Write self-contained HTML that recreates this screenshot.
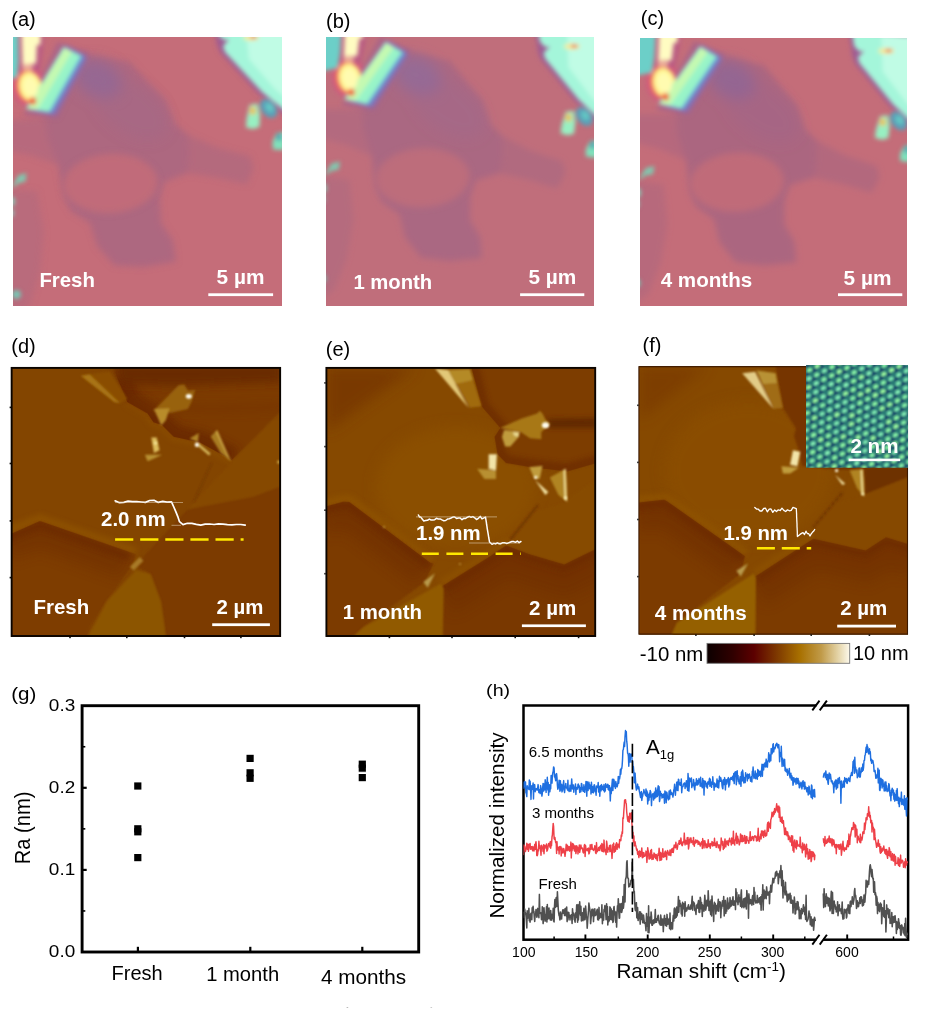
<!DOCTYPE html>
<html lang="en"><head><meta charset="utf-8"><title>Figure</title>
<style>
html,body{margin:0;padding:0;background:#fff;}
body{width:929px;height:1011px;overflow:hidden;}
svg{display:block;}
svg text{font-family:"Liberation Sans",sans-serif;}
</style></head><body>
<svg width="929" height="1011" viewBox="0 0 929 1011">
<defs>
<filter id="bl07" filterUnits="userSpaceOnUse" x="-60" y="-60" width="420" height="420"><feGaussianBlur stdDeviation="0.95"/></filter>
<filter id="bl1" filterUnits="userSpaceOnUse" x="-60" y="-60" width="420" height="420"><feGaussianBlur stdDeviation="1.0"/></filter>
<filter id="bl15" filterUnits="userSpaceOnUse" x="-60" y="-60" width="420" height="420"><feGaussianBlur stdDeviation="1.9"/></filter>
<filter id="bl2" filterUnits="userSpaceOnUse" x="-60" y="-60" width="420" height="420"><feGaussianBlur stdDeviation="2.6"/></filter>
<filter id="bl3" filterUnits="userSpaceOnUse" x="-60" y="-60" width="420" height="420"><feGaussianBlur stdDeviation="3.0"/></filter>
<filter id="bl4" filterUnits="userSpaceOnUse" x="-60" y="-60" width="420" height="420"><feGaussianBlur stdDeviation="4"/></filter>
<filter id="bl7" filterUnits="userSpaceOnUse" x="-60" y="-60" width="420" height="420"><feGaussianBlur stdDeviation="7"/></filter>
<linearGradient id="cbar" x1="0" x2="1" y1="0" y2="0">
<stop offset="0" stop-color="#0c0000"/><stop offset="0.18" stop-color="#300000"/><stop offset="0.33" stop-color="#5c0000"/>
<stop offset="0.5" stop-color="#803c00"/><stop offset="0.65" stop-color="#a87000"/><stop offset="0.8" stop-color="#c09a48"/>
<stop offset="0.92" stop-color="#e4d4a8"/><stop offset="1" stop-color="#fdf9ec"/></linearGradient>
<clipPath id="clipD0"><polygon points="101.7,0 116.2,34.9 136.6,46.5 142.4,55.2 151,58 162.7,69.7 189,75.6 220.9,93 267.4,46.5 271,43 271,0"/></clipPath>
<clipPath id="clipD1"><polygon points="0,167 29,153.9 125,187.3 122,197 95.9,233.8 78.5,260 75.6,271 0,271"/></clipPath>
<clipPath id="clipE1"><polygon points="145.3,0 155.5,39.2 174.4,61 168.6,69.7 171.5,87.2 180,96 203.4,100 241.2,104.6 271,96 271,0"/></clipPath>
<clipPath id="clipE2"><polygon points="0,139.4 17.4,134.8 23.2,135 104.6,196 107.5,196.6 98.8,215 37.8,260 26,271 0,271"/><polygon points="116.2,219.3 162.7,190.2 180.2,178.6 203.4,187.3 238.3,197.5 271,181.5 271,271 116.5,271"/></clipPath>
<clipPath id="clipF2"><polygon points="0,136.5 25,133.7 27.6,135 106,190.2 101.7,207.6 37.8,257 32,271 0,271"/><polygon points="116.2,210.6 174.4,172.8 226.7,184.4 247,171.3 271,178.6 271,271 116.2,271"/></clipPath>
<clipPath id="clipH"><rect x="523.5" y="705.5" width="384.6" height="234.2"/></clipPath>
</defs>
<rect width="929" height="1011" fill="#fff"/>
<!-- optical panels -->
<svg x="13" y="37" width="269" height="269" viewBox="0 0 269 269" overflow="hidden">
<rect x="-5" y="-5" width="280" height="280" fill="#c56d79"/>
<g filter="url(#bl3)">
<polygon points="71.2,17.4 116.2,24.7 136.6,46.5 152.6,62.5 162.7,87.2 174.4,97.4 176.0,116.0 174.4,136.1 151.1,145.3 146.8,162.7 148.2,186.0 159.8,203.4 163.0,224.5 130.8,230.0 101.7,228.5 84.3,209.2 77.0,186.0 58.1,174.4 50.5,160.0 45.0,127.9 34.0,100.0 32.0,78.5 45.0,55.0 58.0,32.0" fill="#ad6780" />
<polygon points="-14.0,84.0 17.4,82.0 34.0,78.0 45.0,128.0 17.4,118.0 -14.0,112.0" fill="#ad6780" opacity="0.6" />
<polygon points="170.0,95.0 174.4,97.4 203.4,110.4 236.9,119.2 240.8,130.8 233.9,147.5 203.4,140.5 174.4,136.1 170.0,137.0" fill="#ad6780" opacity="0.68" />
<polygon points="-14.0,152.0 24.0,154.0 31.0,195.0 27.0,235.0 17.0,268.0 -14.0,292.0" fill="#ad6780" opacity="0.5" />
</g>
<g filter="url(#bl7)">
<ellipse cx="85.0" cy="42.0" rx="25" ry="18" fill="#966892" transform="rotate(25 85.0 42.0)"/>
<ellipse cx="118.0" cy="72.0" rx="42" ry="24" fill="#966892" opacity="0.22" transform="rotate(35 118.0 72.0)"/>
</g>
<g filter="url(#bl3)">
<ellipse cx="97.5" cy="146.5" rx="47" ry="29.5" fill="#c26c79" opacity="0.95" transform="rotate(-3 97.5 146.5)"/>
</g>
<g filter="url(#bl2)">
<ellipse cx="16.0" cy="49.0" rx="17" ry="20" fill="#d0587e" opacity="0.9"/>
<polygon points="4.0,-16.0 31.0,-16.0 30.0,12.0 27.0,33.0 5.0,35.0" fill="#b85a84" opacity="0.9" />
<polygon points="44.6,4.9 76.7,15.6 44.7,81.0 10.9,77.7" fill="#a2628c" opacity="0.75" />
<polygon points="52.3,8.8 74.2,20.6 42.2,78.0 17.5,72.4" fill="#7d74be" opacity="0.95" />
</g>
<g filter="url(#bl15)">
<polygon points="-16.0,-16.0 5.0,-16.0 5.5,24.0 4.0,40.0 -16.0,46.0" fill="#6ccfc8" />
<polygon points="8.2,-16.0 27.8,-16.0 27.5,7.5 23.8,8.5 23.0,26.5 9.5,27.5" fill="#fffcc2" />
<polygon points="9.0,27.0 20.0,27.0 19.0,38.0 10.0,38.0" fill="#f6c0a0" opacity="0.8" />
<ellipse cx="16.0" cy="49.8" rx="13.0" ry="16.6" fill="#f47e58" transform="rotate(-12 16.0 49.8)"/>
<ellipse cx="17.4" cy="49.6" rx="11.0" ry="14.6" fill="#fff692" transform="rotate(-12 17.4 49.6)"/>
<polygon points="55.7,12.5 70.3,19.6 38.3,75.6 19.7,72.7" fill="#68b4de" />
<polygon points="50.6,9.9 67.7,18.6 35.7,75.0 12.9,71.7" fill="#98f4c8" />
<polygon points="51.6,10.4 59.2,14.2 24.3,73.3 14.3,71.9" fill="#caf9ae" opacity="0.9" />
<ellipse cx="19.6" cy="64.0" rx="3.6" ry="3.8" fill="#f0643a"/>
<ellipse cx="17.5" cy="50.0" rx="7.5" ry="10.5" fill="#fffbb0" transform="rotate(-12 17.5 50.0)"/>
</g>
<g filter="url(#bl2)">
<polygon points="199.0,-16.0 203.0,0.0 204.0,7.0 207.5,15.5 245.5,56.5 267.5,75.0 292.0,94.0 292.0,-16.0" fill="#9a5a96" opacity="0.9" />
</g>
<g filter="url(#bl15)">
<polygon points="202.5,-16.0 205.5,-2.0 211.0,3.0 216.0,2.5 210.0,9.0 212.0,15.0 249.0,55.0 271.0,73.0 292.0,90.0 292.0,-16.0" fill="#a4f6da" />
<polygon points="232.0,-16.0 236.0,22.0 262.0,52.0 292.0,78.0 292.0,-16.0" fill="#c6fde6" opacity="0.85" />
<ellipse cx="238.0" cy="0.5" rx="8" ry="3.0" fill="#f6ec9a"/>
<ellipse cx="240.5" cy="0.0" rx="3.6" ry="1.6" fill="#e8603a"/>
<ellipse cx="255.6" cy="71.5" rx="7.2" ry="10.5" fill="#5a9fb8" transform="rotate(-38 255.6 71.5)"/>
<ellipse cx="256.5" cy="70.5" rx="3.5" ry="5.0" fill="#64c8c4" transform="rotate(-38 256.5 70.5)"/>
<polygon points="236.5,68.0 244.5,66.5 247.0,78.0 246.5,90.0 240.0,92.0 233.0,90.5 233.5,82.0" fill="#98f0c2" />
<ellipse cx="239.8" cy="73.8" rx="3.2" ry="4.2" fill="#e8c25c"/>
<polygon points="263.5,96.0 272.0,95.0 272.0,113.0 260.0,112.5 259.5,105.0" fill="#7fe2bc" />
<ellipse cx="266.0" cy="100.0" rx="2.5" ry="4" fill="#4f9cb0"/>
<polygon points="5.0,138.5 13.5,136.0 12.5,144.5 6.0,146.0 -2.0,152.0" fill="#7ccfb4" opacity="0.92" />
<ellipse cx="-1.0" cy="164.5" rx="3.0" ry="4.5" fill="#86d4bc" opacity="0.9"/>
<ellipse cx="3.5" cy="257.5" rx="4.5" ry="4.5" fill="#74ccb8" opacity="0.92"/>
<ellipse cx="-1.5" cy="176.0" rx="2.5" ry="4" fill="#8ad8c8" opacity="0.8"/>
</g>
</svg>
<svg x="326" y="37" width="268" height="269" viewBox="0 0 268 269" overflow="hidden">
<rect x="-5" y="-5" width="280" height="280" fill="#c06e7b"/>
<g filter="url(#bl3)">
<polygon points="79.6,13.8 123.6,24.1 142.3,46.7 157.0,63.4 165.3,88.0 176.2,98.7 176.4,116.9 173.4,136.3 149.7,143.5 144.3,160.1 144.0,182.7 154.3,200.4 156.0,221.1 123.7,224.1 95.0,220.6 79.1,200.6 73.5,177.6 55.6,165.0 49.1,150.5 45.9,119.0 37.0,91.2 36.5,70.2 51.0,48.3 65.5,27.0" fill="#aa6882" />
<polygon points="-9.4,72.2 21.8,72.5 38.5,69.8 45.9,119.1 19.3,107.4 -11.4,99.4" fill="#aa6882" opacity="0.6" />
<polygon points="172.0,96.1 176.2,98.7 203.9,113.4 236.5,124.4 239.5,135.9 231.5,151.6 201.8,142.6 173.4,136.3 169.0,136.8" fill="#aa6882" opacity="0.68" />
<polygon points="-14.2,138.1 23.3,142.8 27.4,183.0 20.6,221.5 8.4,252.8 -23.9,273.8" fill="#aa6882" opacity="0.5" />
</g>
<g filter="url(#bl7)">
<ellipse cx="91.5" cy="38.6" rx="25" ry="18" fill="#966a94" transform="rotate(25 91.5 38.6)"/>
<ellipse cx="122.1" cy="70.1" rx="42" ry="24" fill="#966a94" opacity="0.22" transform="rotate(35 122.1 70.1)"/>
</g>
<g filter="url(#bl3)">
<ellipse cx="96.6" cy="140.8" rx="47" ry="29.5" fill="#be6d7b" opacity="0.95" transform="rotate(-3 96.6 140.8)"/>
</g>
<g filter="url(#bl2)">
<ellipse cx="22.7" cy="40.4" rx="17" ry="20" fill="#d0587e" opacity="0.9"/>
<polygon points="15.4,-23.4 42.1,-21.5 39.2,5.6 34.7,25.7 12.8,26.1" fill="#b85a84" opacity="0.9" />
<polygon points="54.1,-0.2 85.2,12.4 48.9,73.5 15.7,67.9" fill="#a2628c" opacity="0.75" />
<polygon points="61.5,4.1 82.3,17.1 46.6,70.4 22.5,63.2" fill="#7d74be" opacity="0.95" />
</g>
<g filter="url(#bl15)">
<polygon points="-4.4,-24.9 16.4,-23.3 14.1,15.5 11.5,30.9 -8.7,35.2" fill="#6ccfc8" />
<polygon points="19.6,-23.1 39.0,-21.7 37.0,1.0 33.3,1.8 31.2,19.1 17.8,19.1" fill="#fffcc2" />
<polygon points="17.3,18.6 28.2,19.4 26.5,30.0 17.6,29.4" fill="#f6c0a0" opacity="0.8" />
<ellipse cx="22.7" cy="41.2" rx="13.0" ry="16.6" fill="#f47e58" transform="rotate(-12 22.7 41.2)"/>
<ellipse cx="24.1" cy="41.1" rx="11.0" ry="14.6" fill="#fff692" transform="rotate(-12 24.1 41.1)"/>
<polygon points="64.6,7.9 78.5,15.9 42.9,67.8 24.8,63.7" fill="#68b4de" />
<polygon points="59.7,5.0 76.0,14.7 40.4,67.1 18.1,62.2" fill="#98f4c8" />
<polygon points="60.7,5.6 67.9,9.9 29.2,64.6 19.4,62.5" fill="#caf9ae" opacity="0.9" />
<ellipse cx="25.2" cy="55.2" rx="3.6" ry="3.8" fill="#f0643a"/>
<ellipse cx="24.1" cy="41.5" rx="7.5" ry="10.5" fill="#fffbb0" transform="rotate(-12 24.1 41.5)"/>
</g>
<g filter="url(#bl2)">
<polygon points="208.4,-9.4 211.3,6.4 211.8,13.3 214.6,21.7 249.4,64.2 269.9,83.7 292.8,103.9 300.5,-2.7" fill="#9a5a96" opacity="0.9" />
</g>
<g filter="url(#bl15)">
<polygon points="211.9,-9.1 213.9,4.6 219.0,9.9 224.0,9.8 217.6,15.6 219.1,21.6 253.0,63.0 273.5,82.0 293.1,100.0 300.5,-2.7" fill="#a4f6da" />
<polygon points="241.1,-7.0 242.4,30.1 266.0,61.0 293.9,88.4 300.5,-2.7" fill="#c6fde6" opacity="0.85" />
<ellipse cx="245.9" cy="9.4" rx="8" ry="3.0" fill="#f6ec9a"/>
<ellipse cx="248.4" cy="9.1" rx="3.6" ry="1.6" fill="#e8603a"/>
<ellipse cx="258.3" cy="79.5" rx="7.2" ry="10.5" fill="#5a9fb8" transform="rotate(-38 258.3 79.5)"/>
<ellipse cx="259.3" cy="78.6" rx="3.5" ry="5.0" fill="#64c8c4" transform="rotate(-38 259.3 78.6)"/>
<polygon points="239.7,74.7 247.7,73.8 249.4,85.2 248.0,96.8 241.5,98.2 234.6,96.3 235.7,88.1" fill="#98f0c2" />
<ellipse cx="242.5" cy="80.6" rx="3.2" ry="4.2" fill="#e8c25c"/>
<polygon points="264.4,103.8 272.9,103.4 271.7,120.9 259.8,119.5 259.9,112.2" fill="#7fe2bc" />
<ellipse cx="266.6" cy="107.9" rx="2.5" ry="4" fill="#4f9cb0"/>
<polygon points="5.6,126.4 14.2,124.6 12.6,132.8 6.1,133.7 -2.3,139.0" fill="#7ccfb4" opacity="0.92" />
<ellipse cx="-2.2" cy="151.2" rx="3.0" ry="4.5" fill="#86d4bc" opacity="0.9"/>
<ellipse cx="-4.2" cy="241.6" rx="4.5" ry="4.5" fill="#74ccb8" opacity="0.92"/>
<ellipse cx="-3.5" cy="162.3" rx="2.5" ry="4" fill="#8ad8c8" opacity="0.8"/>
</g>
</svg>
<svg x="640" y="38" width="267" height="268" viewBox="0 0 267 268" overflow="hidden">
<rect x="-5" y="-5" width="280" height="280" fill="#c46d79"/>
<g filter="url(#bl3)">
<polygon points="79.9,17.3 123.9,27.6 142.6,50.2 157.3,66.9 165.6,91.5 176.4,102.2 176.7,120.4 173.7,139.8 150.0,147.0 144.5,163.6 144.3,186.2 154.6,203.9 156.3,224.6 124.0,227.6 95.3,224.1 79.4,204.1 73.8,181.1 55.9,168.5 49.4,154.0 46.2,122.5 37.3,94.7 36.8,73.7 51.3,51.8 65.8,30.5" fill="#ab6680" />
<polygon points="-9.1,75.7 22.1,76.0 38.8,73.3 46.2,122.6 19.6,110.9 -11.1,102.9" fill="#ab6680" opacity="0.6" />
<polygon points="172.2,99.6 176.4,102.2 204.2,116.9 236.8,127.9 239.8,139.4 231.8,155.1 202.1,146.1 173.7,139.8 169.3,140.3" fill="#ab6680" opacity="0.68" />
<polygon points="-13.9,141.6 23.6,146.3 27.7,186.5 20.9,225.0 8.7,256.3 -23.7,277.3" fill="#ab6680" opacity="0.5" />
</g>
<g filter="url(#bl7)">
<ellipse cx="91.8" cy="42.1" rx="25" ry="18" fill="#946692" transform="rotate(25 91.8 42.1)"/>
<ellipse cx="122.4" cy="73.6" rx="42" ry="24" fill="#946692" opacity="0.22" transform="rotate(35 122.4 73.6)"/>
</g>
<g filter="url(#bl3)">
<ellipse cx="96.9" cy="144.3" rx="47" ry="29.5" fill="#c16c79" opacity="0.95" transform="rotate(-3 96.9 144.3)"/>
</g>
<g filter="url(#bl2)">
<ellipse cx="23.0" cy="43.9" rx="17" ry="20" fill="#d0587e" opacity="0.9"/>
<polygon points="15.7,-19.9 42.4,-18.0 39.5,9.1 35.0,29.2 13.1,29.6" fill="#b85a84" opacity="0.9" />
<polygon points="54.4,3.3 85.4,15.9 49.2,77.0 16.0,71.4" fill="#a2628c" opacity="0.75" />
<polygon points="61.8,7.6 82.6,20.6 46.9,73.9 22.8,66.7" fill="#7d74be" opacity="0.95" />
</g>
<g filter="url(#bl15)">
<polygon points="-4.1,-21.4 16.7,-19.8 14.4,19.0 11.8,34.4 -8.5,38.7" fill="#6ccfc8" />
<polygon points="19.8,-19.6 39.2,-18.2 37.3,4.5 33.6,5.3 31.5,22.6 18.1,22.6" fill="#fffcc2" />
<polygon points="17.6,22.1 28.5,22.9 26.8,33.5 17.8,32.9" fill="#f6c0a0" opacity="0.8" />
<ellipse cx="23.0" cy="44.7" rx="13.0" ry="16.6" fill="#f47e58" transform="rotate(-12 23.0 44.7)"/>
<ellipse cx="24.4" cy="44.6" rx="11.0" ry="14.6" fill="#fff692" transform="rotate(-12 24.4 44.6)"/>
<polygon points="64.9,11.4 78.8,19.4 43.2,71.3 25.1,67.2" fill="#68b4de" />
<polygon points="60.0,8.5 76.3,18.2 40.7,70.6 18.4,65.7" fill="#98f4c8" />
<polygon points="61.0,9.1 68.2,13.4 29.5,68.1 19.7,66.0" fill="#caf9ae" opacity="0.9" />
<ellipse cx="25.5" cy="58.7" rx="3.6" ry="3.8" fill="#f0643a"/>
<ellipse cx="24.4" cy="45.0" rx="7.5" ry="10.5" fill="#fffbb0" transform="rotate(-12 24.4 45.0)"/>
</g>
<g filter="url(#bl2)">
<polygon points="208.7,-5.9 211.5,9.9 212.1,16.8 214.9,25.2 249.7,67.7 270.2,87.2 293.1,107.4 300.8,0.8" fill="#9a5a96" opacity="0.9" />
</g>
<g filter="url(#bl15)">
<polygon points="212.2,-5.6 214.2,8.1 219.3,13.4 224.2,13.3 217.8,19.1 219.4,25.1 253.2,66.5 273.8,85.5 293.4,103.5 300.8,0.8" fill="#a4f6da" />
<polygon points="241.4,-3.5 242.7,33.6 266.3,64.5 294.2,91.9 300.8,0.8" fill="#c6fde6" opacity="0.85" />
<ellipse cx="246.2" cy="12.9" rx="8" ry="3.0" fill="#f6ec9a"/>
<ellipse cx="248.7" cy="12.6" rx="3.6" ry="1.6" fill="#e8603a"/>
<ellipse cx="258.6" cy="83.0" rx="7.2" ry="10.5" fill="#5a9fb8" transform="rotate(-38 258.6 83.0)"/>
<ellipse cx="259.6" cy="82.1" rx="3.5" ry="5.0" fill="#64c8c4" transform="rotate(-38 259.6 82.1)"/>
<polygon points="240.0,78.2 248.0,77.3 249.7,88.7 248.3,100.3 241.7,101.7 234.9,99.8 236.0,91.6" fill="#98f0c2" />
<ellipse cx="242.8" cy="84.1" rx="3.2" ry="4.2" fill="#e8c25c"/>
<polygon points="264.7,107.3 273.2,106.9 272.0,124.4 260.1,123.0 260.1,115.7" fill="#7fe2bc" />
<ellipse cx="266.9" cy="111.4" rx="2.5" ry="4" fill="#4f9cb0"/>
<polygon points="5.9,129.9 14.5,128.1 12.9,136.3 6.3,137.2 -2.0,142.5" fill="#7ccfb4" opacity="0.92" />
<ellipse cx="-1.9" cy="154.7" rx="3.0" ry="4.5" fill="#86d4bc" opacity="0.9"/>
<ellipse cx="-3.9" cy="245.1" rx="4.5" ry="4.5" fill="#74ccb8" opacity="0.92"/>
<ellipse cx="-3.2" cy="165.8" rx="2.5" ry="4" fill="#8ad8c8" opacity="0.8"/>
</g>
</svg>
<text x="39.4" y="287.0" font-size="20.4" font-weight="bold" fill="#fff">Fresh</text>
<text x="216.6" y="283.6" font-size="20.8" font-weight="bold" fill="#fff">5 µm</text>
<rect x="208.3" y="293.3" width="64.8" height="2.8" fill="#fff"/>
<text x="353.4" y="288.6" font-size="20.3" font-weight="bold" fill="#fff">1 month</text>
<text x="528.4" y="283.6" font-size="20.8" font-weight="bold" fill="#fff">5 µm</text>
<rect x="520.1" y="293.3" width="64.2" height="2.8" fill="#fff"/>
<text x="660.7" y="287.0" font-size="20.6" font-weight="bold" fill="#fff">4 months</text>
<text x="843.6" y="284.6" font-size="20.8" font-weight="bold" fill="#fff">5 µm</text>
<rect x="838.0" y="293.3" width="64.3" height="2.8" fill="#fff"/>
<!-- AFM panels -->
<svg x="11" y="367" width="270" height="270" viewBox="0 0 270 270" overflow="hidden">
<rect x="0" y="0" width="270" height="270" fill="#834500"/>
<polyline points="-5.0,165.0 29.0,152.5 125.0,186.0" fill="none" stroke="#8f5300" stroke-width="11" opacity="0.75" filter="url(#bl2)"/>
<polyline points="116.2,34.9 136.6,46.5 142.4,55.2 151.0,58.0 162.7,69.7 189.0,75.6 220.9,93.0" fill="none" stroke="#8c5000" stroke-width="9" opacity="0.6" filter="url(#bl2)"/>
<g filter="url(#bl07)">
<polygon points="101.7,0.0 116.2,34.9 136.6,46.5 142.4,55.2 151.0,58.0 162.7,69.7 189.0,75.6 220.9,93.0 267.4,46.5 271.0,43.0 271.0,0.0" fill="#7b3a00" />
<polygon points="271.0,43.0 222.6,93.1 176.5,142.5 242.6,129.8 271.0,119.0" fill="#864a00" />
<polygon points="176.5,142.5 242.6,129.8 271.0,119.0 271.0,271.0 155.0,271.0 150.0,235.0 139.5,207.0 128.0,200.5 125.0,197.5" fill="#7c3b00" />
<polygon points="0.0,167.0 29.0,153.9 125.0,187.3 122.0,197.0 95.9,233.8 78.5,260.0 75.6,271.0 0.0,271.0" fill="#7e3e00" />
</g>
<g clip-path="url(#clipD1)">
<polyline points="-5.0,176.0 29.0,164.0 116.0,195.0" fill="none" stroke="#6c2c00" stroke-width="34" opacity="0.45" filter="url(#bl7)"/>
<polyline points="-5.0,171.5 29.0,158.5 118.0,190.0" fill="none" stroke="#6c2a00" stroke-width="8" opacity="0.75" filter="url(#bl2)"/>
</g>
<g clip-path="url(#clipD0)">
<polyline points="108.0,8.0 117.0,36.0 137.0,48.0 143.0,56.5 151.0,59.5 163.0,71.0 189.0,77.0 222.0,94.0" fill="none" stroke="#672800" stroke-width="26" opacity="0.8" filter="url(#bl4)"/>
</g>
<polygon points="104.0,-4.0 110.0,17.0 160.0,19.0 271.0,15.0 271.0,-4.0" fill="#692900" opacity="0.95" filter="url(#bl4)"/>
<polygon points="118.0,33.0 150.0,36.0 200.0,38.0 271.0,36.0 271.0,44.0 200.0,46.0 140.0,44.0" fill="#743200" opacity="0.5" filter="url(#bl4)"/>
<g filter="url(#bl07)">
<polygon points="125.0,203.0 139.5,207.0 150.0,235.0 155.0,271.0 76.0,271.0 96.0,233.8" fill="#8c5400" />
<line x1="120.8" y1="201.6" x2="130.6" y2="191.9" stroke="#a87a28" stroke-width="5.2" />
<line x1="200.5" y1="96.0" x2="183.0" y2="134.8" stroke="#5e2a00" stroke-width="1.0" opacity="0.55" />
<polygon points="78.5,7.3 98.8,4.4 116.2,32.0 109.0,36.3" fill="#8a4e04" />
<polygon points="69.7,8.7 78.5,7.3 109.0,36.3 103.2,34.9" fill="#a87414" />
<polygon points="142.1,43.9 167.7,18.3 173.2,17.4 176.9,23.8 184.2,22.9 180.5,34.8 176.9,42.1 160.4,45.7" fill="#98620e" />
<polygon points="143.0,42.1 158.6,41.2 154.9,53.1 150.3,58.6" fill="#b88c2c" />
<polygon points="140.3,70.4 145.7,70.4 148.5,83.3 143.0,86.0" fill="#dcbc5c" />
<polygon points="133.9,87.8 151.2,87.8 143.0,91.5 136.6,94.2" fill="#b89030" />
<polygon points="178.7,71.4 187.8,65.9 186.9,75.0" fill="#b08428" />
<polygon points="186.5,78.5 188.5,77.0 199.5,86.5 198.0,88.5" fill="#d8bc60" />
<polygon points="199.7,69.5 206.1,63.1 219.9,94.2 209.8,86.0" fill="#a87c20" />
<polygon points="204.5,65.0 206.1,63.1 219.9,94.2 216.5,90.0" fill="#c8a040" />
</g>
<g filter="url(#bl1)">
<ellipse cx="177.8" cy="29.3" rx="3.0" ry="2.4" fill="#fffdf0"/>
<circle cx="186.0" cy="77.8" r="2.2" fill="#fffdf0"/>
<circle cx="144.5" cy="76.0" r="1.6" fill="#f8e8a0"/>
<circle cx="267.8" cy="95.0" r="1.6" fill="#d8b850"/>
</g>
</svg>
<rect x="11.65" y="367.9" width="268.5" height="268.1" fill="none" stroke="#0a0400" stroke-width="1.9"/>
<svg x="326" y="367" width="270" height="270" viewBox="0 0 270 270" overflow="hidden">
<rect x="0" y="0" width="270" height="270" fill="#864900"/>
<polygon points="0,0 90,0 0,65" fill="#733300" opacity="0.65" filter="url(#bl7)"/>
<ellipse cx="130" cy="120" rx="80" ry="60" fill="#8d5100" opacity="0.75" filter="url(#bl7)"/>
<polyline points="-4.0,138.0 17.4,133.3 23.6,133.4 105.0,194.5" fill="none" stroke="#8f5300" stroke-width="11" opacity="0.75" filter="url(#bl2)"/>
<polyline points="116.0,217.8 162.7,188.8 180.2,177.0 203.4,185.8 238.3,196.0 275.0,179.5" fill="none" stroke="#8f5300" stroke-width="11" opacity="0.6" filter="url(#bl2)"/>
<g filter="url(#bl07)">
<polygon points="145.3,0.0 155.5,39.2 174.4,61.0 168.6,69.7 171.5,87.2 180.0,96.0 203.4,100.0 241.2,104.6 271.0,96.0 271.0,0.0" fill="#7d3d00" />
</g>
<g clip-path="url(#clipE1)">
<polyline points="146.0,-4.0 157.0,39.0 176.0,61.0 171.0,70.0 173.5,87.0 181.0,94.5 204.0,98.0 241.0,102.5 275.0,93.0" fill="none" stroke="#6c2c00" stroke-width="12" opacity="0.7" filter="url(#bl2)"/>
<polygon points="222.0,52.0 271.0,51.0 271.0,61.0 222.0,61.0" fill="#5e2600" opacity="0.9" filter="url(#bl2)"/>
</g>
<g filter="url(#bl07)">
<polygon points="271.0,112.0 243.0,131.0 241.2,134.8 203.4,146.6 186.0,172.8 180.2,178.6 203.4,187.3 238.3,197.5 271.0,181.5" fill="#874b00" />
<polygon points="0.0,139.4 17.4,134.8 23.2,135.0 104.6,196.0 107.5,196.6 98.8,215.0 37.8,260.0 26.0,271.0 0.0,271.0" fill="#7b3a00" />
<polygon points="116.2,219.3 162.7,190.2 180.2,178.6 203.4,187.3 238.3,197.5 271.0,181.5 271.0,271.0 116.5,271.0" fill="#793900" />
</g>
<g clip-path="url(#clipE2)">
<polyline points="-4.0,150.0 18.0,146.0 26.0,147.0 100.0,204.0" fill="none" stroke="#6c2c00" stroke-width="34" opacity="0.45" filter="url(#bl7)"/>
<polyline points="118.0,232.0 163.0,204.0 181.0,193.0 203.0,201.0 238.0,212.0 275.0,194.0" fill="none" stroke="#6c2c00" stroke-width="34" opacity="0.4" filter="url(#bl7)"/>
<polyline points="-4.0,143.0 18.0,138.5 24.0,139.0 103.0,198.5" fill="none" stroke="#6c2a00" stroke-width="8" opacity="0.75" filter="url(#bl2)"/>
<polyline points="118.0,222.5 163.0,194.0 180.5,182.5 203.0,191.0 238.0,201.5 275.0,183.5" fill="none" stroke="#6c2a00" stroke-width="8" opacity="0.65" filter="url(#bl2)"/>
</g>
<g filter="url(#bl07)">
<polygon points="114.8,216.4 117.7,222.0 116.5,271.0 26.0,271.0 37.8,260.0" fill="#915a00" />
<polygon points="97.4,215.0 109.0,206.2 101.7,220.8" fill="#b89a4c" />
<line x1="212.0" y1="138.0" x2="184.5" y2="172.5" stroke="#602a00" stroke-width="1.5" opacity="0.75" />
<polygon points="122.0,2.9 143.9,2.3 155.5,39.2 143.9,40.7" fill="#a06a10" />
<polygon points="122.0,2.9 143.9,2.3 147.0,13.0 129.0,17.0" fill="#b48a28" />
<polygon points="109.0,1.5 122.0,2.9 142.4,40.7" fill="#e2c878" />
<polygon points="174.0,60.9 195.7,51.6 211.2,46.4 213.8,43.8 216.4,46.4 219.5,52.6 224.0,57.0 215.3,65.0 215.3,72.2 204.0,71.2 194.7,65.0" fill="#a87818" />
<polygon points="178.1,63.0 193.6,65.0 192.6,70.1 184.3,79.4 179.2,79.4 176.0,70.0" fill="#c09c3c" />
<polygon points="187.0,65.0 193.0,65.5 192.5,70.0 188.0,68.5" fill="#e8d890" />
<polygon points="162.7,87.2 170.9,87.2 170.0,103.2 162.7,101.7" fill="#f2e4a8" />
<polygon points="151.1,101.7 170.0,103.2 170.0,111.9 158.4,111.9" fill="#b89030" />
<polygon points="203.4,100.3 216.5,98.8 213.6,111.9 207.8,110.4" fill="#c09c3c" />
<polygon points="209.2,113.3 222.3,125.0 219.4,127.9" fill="#f0e0a0" />
<polygon points="223.8,110.4 239.8,101.7 241.2,134.8 232.5,127.9" fill="#b08424" />
<polygon points="237.5,103.0 239.8,101.7 241.2,134.8 238.5,132.0" fill="#e8d488" />
</g>
<g filter="url(#bl1)">
<ellipse cx="219.5" cy="58.3" rx="3.6" ry="3.0" fill="#fffdf0"/>
<circle cx="209.8" cy="110.4" r="1.7" fill="#fffbe0"/>
<circle cx="239.5" cy="131.0" r="1.4" fill="#fff4c0"/>
<circle cx="58.0" cy="160.0" r="1.0" fill="#c8a040"/>
<circle cx="134.0" cy="197.0" r="0.9" fill="#c8a040"/>
</g>
</svg>
<rect x="326.4" y="367.9" width="268.8" height="268.1" fill="none" stroke="#0a0400" stroke-width="1.9"/>
<svg x="639" y="366" width="269" height="268.6" viewBox="0 0 269 268.6" overflow="hidden">
<rect x="0" y="0" width="271" height="270" fill="#864900"/>
<polygon points="0,0 70,0 0,55" fill="#733300" opacity="0.45" filter="url(#bl7)"/>
<ellipse cx="110" cy="105" rx="85" ry="70" fill="#8c5000" opacity="0.7" filter="url(#bl7)"/>
<polyline points="-4.0,135.3 25.0,132.3 28.0,133.5 106.5,188.8" fill="none" stroke="#8f5300" stroke-width="11" opacity="0.75" filter="url(#bl2)"/>
<polyline points="116.0,209.0 174.4,171.3 226.7,183.0 247.0,169.8 275.0,178.0" fill="none" stroke="#8f5300" stroke-width="11" opacity="0.6" filter="url(#bl2)"/>
<g filter="url(#bl07)">
<polygon points="136.6,0.0 143.9,42.1 157.0,62.5 155.0,70.0 159.8,84.3 163.0,100.0 200.0,104.0 223.8,103.2 271.0,103.0 271.0,0.0" fill="#763600" />
<polygon points="225.2,103.0 271.0,103.0 271.0,110.4 226.7,127.9" fill="#6e3000" />
<polygon points="271.0,110.4 226.7,127.9 224.0,131.0 194.7,137.9 174.4,161.2 174.4,172.8 226.7,184.4 247.0,171.3 271.0,178.6" fill="#864a00" />
<polygon points="0.0,136.5 25.0,133.7 27.6,135.0 106.0,190.2 101.7,207.6 37.8,257.0 32.0,271.0 0.0,271.0" fill="#7c3b00" />
<polygon points="116.2,210.6 174.4,172.8 226.7,184.4 247.0,171.3 271.0,178.6 271.0,271.0 116.2,271.0" fill="#7c3b00" />
</g>
<g clip-path="url(#clipF2)">
<polyline points="-4.0,148.0 25.0,145.0 30.0,147.0 101.0,198.0" fill="none" stroke="#6c2c00" stroke-width="34" opacity="0.45" filter="url(#bl7)"/>
<polyline points="118.0,224.0 175.0,187.0 226.5,199.0 247.0,186.0 275.0,194.0" fill="none" stroke="#6c2c00" stroke-width="34" opacity="0.4" filter="url(#bl7)"/>
<polyline points="-4.0,140.5 25.0,137.5 28.0,139.0 104.0,192.5" fill="none" stroke="#6c2a00" stroke-width="8" opacity="0.7" filter="url(#bl2)"/>
<polyline points="118.0,213.5 174.5,176.5 226.5,188.5 247.0,175.5 275.0,184.0" fill="none" stroke="#6c2a00" stroke-width="8" opacity="0.6" filter="url(#bl2)"/>
</g>
<g filter="url(#bl07)">
<polygon points="114.8,207.6 116.8,212.0 116.2,271.0 32.0,271.0 37.8,257.0" fill="#956003" />
<polygon points="97.4,204.7 109.0,197.5 101.7,210.6" fill="#b89a4c" />
<line x1="203.0" y1="127.0" x2="174.4" y2="161.2" stroke="#5e2a00" stroke-width="1.4" opacity="0.8" stroke-dasharray="4.5 1.5"/>
<polygon points="117.7,4.4 136.6,7.3 143.9,42.1 133.7,43.0" fill="#a06c18" />
<polygon points="117.7,4.4 136.6,7.3 138.0,17.0 124.0,18.0" fill="#b89234" />
<polygon points="103.2,7.3 116.2,5.8 133.7,42.1" fill="#e2cc88" />
<polygon points="154.0,84.3 161.3,85.7 158.4,100.3 151.1,98.8" fill="#f2e4a8" />
<polygon points="142.4,100.3 159.8,101.7 151.1,107.5 143.9,107.5" fill="#c09c3c" />
<polygon points="196.2,109.0 206.3,117.7 203.4,119.1" fill="#f0e0a0" />
<polygon points="210.7,104.6 223.8,103.2 225.2,130.8 218.0,122.0" fill="#b08424" />
<polygon points="221.5,104.0 223.8,103.2 225.2,130.8 222.5,127.0" fill="#e8d488" />
</g>
<g filter="url(#bl1)">
<circle cx="197.6" cy="104.6" r="1.6" fill="#fffbe0"/>
<circle cx="223.5" cy="128.0" r="1.3" fill="#fff4c0"/>
</g>
</svg>
<rect x="638.9" y="366.7" width="268.6" height="267.4" fill="none" stroke="#3a1800" stroke-width="1.1"/>
<rect x="9.600000000000001" y="406.59999999999997" width="1.4" height="1.6" fill="#111"/>
<rect x="9.600000000000001" y="462.7" width="1.4" height="1.6" fill="#111"/>
<rect x="9.600000000000001" y="520.1" width="1.4" height="1.6" fill="#111"/>
<rect x="9.600000000000001" y="576.8000000000001" width="1.4" height="1.6" fill="#111"/>
<rect x="69.2" y="636.6999999999999" width="1.6" height="1.5" fill="#111"/>
<rect x="126.0" y="636.6999999999999" width="1.6" height="1.5" fill="#111"/>
<rect x="183.7" y="636.6999999999999" width="1.6" height="1.5" fill="#111"/>
<rect x="240.1" y="636.6999999999999" width="1.6" height="1.5" fill="#111"/>
<rect x="324.3" y="382.09999999999997" width="1.4" height="1.6" fill="#111"/>
<rect x="324.3" y="445.8" width="1.4" height="1.6" fill="#111"/>
<rect x="324.3" y="509.4" width="1.4" height="1.6" fill="#111"/>
<rect x="324.3" y="572.9000000000001" width="1.4" height="1.6" fill="#111"/>
<rect x="388.59999999999997" y="636.6999999999999" width="1.6" height="1.5" fill="#111"/>
<rect x="451.2" y="636.6999999999999" width="1.6" height="1.5" fill="#111"/>
<rect x="514.4000000000001" y="636.6999999999999" width="1.6" height="1.5" fill="#111"/>
<rect x="577.8000000000001" y="636.6999999999999" width="1.6" height="1.5" fill="#111"/>
<rect x="637.1999999999999" y="404.5" width="1.4" height="1.6" fill="#111"/>
<rect x="637.1999999999999" y="461.59999999999997" width="1.4" height="1.6" fill="#111"/>
<rect x="637.1999999999999" y="518.7" width="1.4" height="1.6" fill="#111"/>
<rect x="637.1999999999999" y="575.8000000000001" width="1.4" height="1.6" fill="#111"/>
<rect x="695.1" y="634.4" width="1.6" height="1.5" fill="#111"/>
<rect x="753.3000000000001" y="634.4" width="1.6" height="1.5" fill="#111"/>
<rect x="810.4000000000001" y="634.4" width="1.6" height="1.5" fill="#111"/>
<rect x="868.6" y="634.4" width="1.6" height="1.5" fill="#111"/>
<svg x="806.0" y="365.0" width="102.0" height="102.7" viewBox="0 0 102.0 102.7" overflow="hidden">
<rect width="102.0" height="102.7" fill="#277874"/>
<g filter="url(#bl1)">
<ellipse cx="2.9" cy="108.5" rx="2.9" ry="2.1" fill="#1b4f6c" transform="rotate(-27 2.9 108.5)"/>
<ellipse cx="3.4" cy="99.9" rx="2.9" ry="2.1" fill="#1b4f6c" transform="rotate(-27 3.4 99.9)"/>
<ellipse cx="10.6" cy="104.6" rx="2.9" ry="2.1" fill="#1b4f6c" transform="rotate(-27 10.6 104.6)"/>
<ellipse cx="3.9" cy="91.3" rx="2.9" ry="2.1" fill="#1b4f6c" transform="rotate(-27 3.9 91.3)"/>
<ellipse cx="11.1" cy="96.0" rx="2.9" ry="2.1" fill="#1b4f6c" transform="rotate(-27 11.1 96.0)"/>
<ellipse cx="18.3" cy="100.7" rx="2.9" ry="2.1" fill="#1b4f6c" transform="rotate(-27 18.3 100.7)"/>
<ellipse cx="25.5" cy="105.4" rx="2.9" ry="2.1" fill="#1b4f6c" transform="rotate(-27 25.5 105.4)"/>
<ellipse cx="4.3" cy="82.7" rx="2.9" ry="2.1" fill="#1b4f6c" transform="rotate(-27 4.3 82.7)"/>
<ellipse cx="11.5" cy="87.4" rx="2.9" ry="2.1" fill="#1b4f6c" transform="rotate(-27 11.5 87.4)"/>
<ellipse cx="18.7" cy="92.1" rx="2.9" ry="2.1" fill="#1b4f6c" transform="rotate(-27 18.7 92.1)"/>
<ellipse cx="25.9" cy="96.8" rx="2.9" ry="2.1" fill="#1b4f6c" transform="rotate(-27 25.9 96.8)"/>
<ellipse cx="33.1" cy="101.5" rx="2.9" ry="2.1" fill="#1b4f6c" transform="rotate(-27 33.1 101.5)"/>
<ellipse cx="40.3" cy="106.2" rx="2.9" ry="2.1" fill="#1b4f6c" transform="rotate(-27 40.3 106.2)"/>
<ellipse cx="4.8" cy="74.1" rx="2.9" ry="2.1" fill="#1b4f6c" transform="rotate(-27 4.8 74.1)"/>
<ellipse cx="12.0" cy="78.8" rx="2.9" ry="2.1" fill="#1b4f6c" transform="rotate(-27 12.0 78.8)"/>
<ellipse cx="19.2" cy="83.5" rx="2.9" ry="2.1" fill="#1b4f6c" transform="rotate(-27 19.2 83.5)"/>
<ellipse cx="26.4" cy="88.2" rx="2.9" ry="2.1" fill="#1b4f6c" transform="rotate(-27 26.4 88.2)"/>
<ellipse cx="33.6" cy="92.9" rx="2.9" ry="2.1" fill="#1b4f6c" transform="rotate(-27 33.6 92.9)"/>
<ellipse cx="40.8" cy="97.6" rx="2.9" ry="2.1" fill="#1b4f6c" transform="rotate(-27 40.8 97.6)"/>
<ellipse cx="48.0" cy="102.3" rx="2.9" ry="2.1" fill="#1b4f6c" transform="rotate(-27 48.0 102.3)"/>
<ellipse cx="55.2" cy="107.0" rx="2.9" ry="2.1" fill="#1b4f6c" transform="rotate(-27 55.2 107.0)"/>
<ellipse cx="5.2" cy="65.5" rx="2.9" ry="2.1" fill="#1b4f6c" transform="rotate(-27 5.2 65.5)"/>
<ellipse cx="12.4" cy="70.2" rx="2.9" ry="2.1" fill="#1b4f6c" transform="rotate(-27 12.4 70.2)"/>
<ellipse cx="19.6" cy="74.9" rx="2.9" ry="2.1" fill="#1b4f6c" transform="rotate(-27 19.6 74.9)"/>
<ellipse cx="26.8" cy="79.6" rx="2.9" ry="2.1" fill="#1b4f6c" transform="rotate(-27 26.8 79.6)"/>
<ellipse cx="34.0" cy="84.3" rx="2.9" ry="2.1" fill="#1b4f6c" transform="rotate(-27 34.0 84.3)"/>
<ellipse cx="41.2" cy="89.0" rx="2.9" ry="2.1" fill="#1b4f6c" transform="rotate(-27 41.2 89.0)"/>
<ellipse cx="48.4" cy="93.7" rx="2.9" ry="2.1" fill="#1b4f6c" transform="rotate(-27 48.4 93.7)"/>
<ellipse cx="55.6" cy="98.4" rx="2.9" ry="2.1" fill="#1b4f6c" transform="rotate(-27 55.6 98.4)"/>
<ellipse cx="62.8" cy="103.1" rx="2.9" ry="2.1" fill="#1b4f6c" transform="rotate(-27 62.8 103.1)"/>
<ellipse cx="70.0" cy="107.8" rx="2.9" ry="2.1" fill="#1b4f6c" transform="rotate(-27 70.0 107.8)"/>
<ellipse cx="5.7" cy="56.9" rx="2.9" ry="2.1" fill="#1b4f6c" transform="rotate(-27 5.7 56.9)"/>
<ellipse cx="12.9" cy="61.6" rx="2.9" ry="2.1" fill="#1b4f6c" transform="rotate(-27 12.9 61.6)"/>
<ellipse cx="20.1" cy="66.3" rx="2.9" ry="2.1" fill="#1b4f6c" transform="rotate(-27 20.1 66.3)"/>
<ellipse cx="27.3" cy="71.0" rx="2.9" ry="2.1" fill="#1b4f6c" transform="rotate(-27 27.3 71.0)"/>
<ellipse cx="34.5" cy="75.7" rx="2.9" ry="2.1" fill="#1b4f6c" transform="rotate(-27 34.5 75.7)"/>
<ellipse cx="41.7" cy="80.4" rx="2.9" ry="2.1" fill="#1b4f6c" transform="rotate(-27 41.7 80.4)"/>
<ellipse cx="48.9" cy="85.1" rx="2.9" ry="2.1" fill="#1b4f6c" transform="rotate(-27 48.9 85.1)"/>
<ellipse cx="56.1" cy="89.8" rx="2.9" ry="2.1" fill="#1b4f6c" transform="rotate(-27 56.1 89.8)"/>
<ellipse cx="63.3" cy="94.5" rx="2.9" ry="2.1" fill="#1b4f6c" transform="rotate(-27 63.3 94.5)"/>
<ellipse cx="70.5" cy="99.2" rx="2.9" ry="2.1" fill="#1b4f6c" transform="rotate(-27 70.5 99.2)"/>
<ellipse cx="77.7" cy="103.9" rx="2.9" ry="2.1" fill="#1b4f6c" transform="rotate(-27 77.7 103.9)"/>
<ellipse cx="84.9" cy="108.6" rx="2.9" ry="2.1" fill="#1b4f6c" transform="rotate(-27 84.9 108.6)"/>
<ellipse cx="-1.0" cy="43.6" rx="2.9" ry="2.1" fill="#1b4f6c" transform="rotate(-27 -1.0 43.6)"/>
<ellipse cx="6.2" cy="48.3" rx="2.9" ry="2.1" fill="#1b4f6c" transform="rotate(-27 6.2 48.3)"/>
<ellipse cx="13.4" cy="53.0" rx="2.9" ry="2.1" fill="#1b4f6c" transform="rotate(-27 13.4 53.0)"/>
<ellipse cx="20.6" cy="57.7" rx="2.9" ry="2.1" fill="#1b4f6c" transform="rotate(-27 20.6 57.7)"/>
<ellipse cx="27.8" cy="62.4" rx="2.9" ry="2.1" fill="#1b4f6c" transform="rotate(-27 27.8 62.4)"/>
<ellipse cx="35.0" cy="67.1" rx="2.9" ry="2.1" fill="#1b4f6c" transform="rotate(-27 35.0 67.1)"/>
<ellipse cx="42.2" cy="71.8" rx="2.9" ry="2.1" fill="#1b4f6c" transform="rotate(-27 42.2 71.8)"/>
<ellipse cx="49.4" cy="76.5" rx="2.9" ry="2.1" fill="#1b4f6c" transform="rotate(-27 49.4 76.5)"/>
<ellipse cx="56.6" cy="81.2" rx="2.9" ry="2.1" fill="#1b4f6c" transform="rotate(-27 56.6 81.2)"/>
<ellipse cx="63.8" cy="85.9" rx="2.9" ry="2.1" fill="#1b4f6c" transform="rotate(-27 63.8 85.9)"/>
<ellipse cx="71.0" cy="90.6" rx="2.9" ry="2.1" fill="#1b4f6c" transform="rotate(-27 71.0 90.6)"/>
<ellipse cx="78.2" cy="95.3" rx="2.9" ry="2.1" fill="#1b4f6c" transform="rotate(-27 78.2 95.3)"/>
<ellipse cx="85.4" cy="100.0" rx="2.9" ry="2.1" fill="#1b4f6c" transform="rotate(-27 85.4 100.0)"/>
<ellipse cx="92.6" cy="104.7" rx="2.9" ry="2.1" fill="#1b4f6c" transform="rotate(-27 92.6 104.7)"/>
<ellipse cx="-0.6" cy="35.0" rx="2.9" ry="2.1" fill="#1b4f6c" transform="rotate(-27 -0.6 35.0)"/>
<ellipse cx="6.6" cy="39.7" rx="2.9" ry="2.1" fill="#1b4f6c" transform="rotate(-27 6.6 39.7)"/>
<ellipse cx="13.8" cy="44.4" rx="2.9" ry="2.1" fill="#1b4f6c" transform="rotate(-27 13.8 44.4)"/>
<ellipse cx="21.0" cy="49.1" rx="2.9" ry="2.1" fill="#1b4f6c" transform="rotate(-27 21.0 49.1)"/>
<ellipse cx="28.2" cy="53.8" rx="2.9" ry="2.1" fill="#1b4f6c" transform="rotate(-27 28.2 53.8)"/>
<ellipse cx="35.4" cy="58.5" rx="2.9" ry="2.1" fill="#1b4f6c" transform="rotate(-27 35.4 58.5)"/>
<ellipse cx="42.6" cy="63.2" rx="2.9" ry="2.1" fill="#1b4f6c" transform="rotate(-27 42.6 63.2)"/>
<ellipse cx="49.8" cy="67.9" rx="2.9" ry="2.1" fill="#1b4f6c" transform="rotate(-27 49.8 67.9)"/>
<ellipse cx="57.0" cy="72.6" rx="2.9" ry="2.1" fill="#1b4f6c" transform="rotate(-27 57.0 72.6)"/>
<ellipse cx="64.2" cy="77.3" rx="2.9" ry="2.1" fill="#1b4f6c" transform="rotate(-27 64.2 77.3)"/>
<ellipse cx="71.4" cy="82.0" rx="2.9" ry="2.1" fill="#1b4f6c" transform="rotate(-27 71.4 82.0)"/>
<ellipse cx="78.6" cy="86.7" rx="2.9" ry="2.1" fill="#1b4f6c" transform="rotate(-27 78.6 86.7)"/>
<ellipse cx="85.8" cy="91.4" rx="2.9" ry="2.1" fill="#1b4f6c" transform="rotate(-27 85.8 91.4)"/>
<ellipse cx="93.0" cy="96.1" rx="2.9" ry="2.1" fill="#1b4f6c" transform="rotate(-27 93.0 96.1)"/>
<ellipse cx="100.2" cy="100.8" rx="2.9" ry="2.1" fill="#1b4f6c" transform="rotate(-27 100.2 100.8)"/>
<ellipse cx="107.4" cy="105.5" rx="2.9" ry="2.1" fill="#1b4f6c" transform="rotate(-27 107.4 105.5)"/>
<ellipse cx="-0.1" cy="26.4" rx="2.9" ry="2.1" fill="#1b4f6c" transform="rotate(-27 -0.1 26.4)"/>
<ellipse cx="7.1" cy="31.1" rx="2.9" ry="2.1" fill="#1b4f6c" transform="rotate(-27 7.1 31.1)"/>
<ellipse cx="14.3" cy="35.8" rx="2.9" ry="2.1" fill="#1b4f6c" transform="rotate(-27 14.3 35.8)"/>
<ellipse cx="21.5" cy="40.5" rx="2.9" ry="2.1" fill="#1b4f6c" transform="rotate(-27 21.5 40.5)"/>
<ellipse cx="28.7" cy="45.2" rx="2.9" ry="2.1" fill="#1b4f6c" transform="rotate(-27 28.7 45.2)"/>
<ellipse cx="35.9" cy="49.9" rx="2.9" ry="2.1" fill="#1b4f6c" transform="rotate(-27 35.9 49.9)"/>
<ellipse cx="43.1" cy="54.6" rx="2.9" ry="2.1" fill="#1b4f6c" transform="rotate(-27 43.1 54.6)"/>
<ellipse cx="50.3" cy="59.3" rx="2.9" ry="2.1" fill="#1b4f6c" transform="rotate(-27 50.3 59.3)"/>
<ellipse cx="57.5" cy="64.0" rx="2.9" ry="2.1" fill="#1b4f6c" transform="rotate(-27 57.5 64.0)"/>
<ellipse cx="64.7" cy="68.7" rx="2.9" ry="2.1" fill="#1b4f6c" transform="rotate(-27 64.7 68.7)"/>
<ellipse cx="71.9" cy="73.4" rx="2.9" ry="2.1" fill="#1b4f6c" transform="rotate(-27 71.9 73.4)"/>
<ellipse cx="79.1" cy="78.1" rx="2.9" ry="2.1" fill="#1b4f6c" transform="rotate(-27 79.1 78.1)"/>
<ellipse cx="86.3" cy="82.8" rx="2.9" ry="2.1" fill="#1b4f6c" transform="rotate(-27 86.3 82.8)"/>
<ellipse cx="93.5" cy="87.5" rx="2.9" ry="2.1" fill="#1b4f6c" transform="rotate(-27 93.5 87.5)"/>
<ellipse cx="100.7" cy="92.2" rx="2.9" ry="2.1" fill="#1b4f6c" transform="rotate(-27 100.7 92.2)"/>
<ellipse cx="107.9" cy="96.9" rx="2.9" ry="2.1" fill="#1b4f6c" transform="rotate(-27 107.9 96.9)"/>
<ellipse cx="0.3" cy="17.8" rx="2.9" ry="2.1" fill="#1b4f6c" transform="rotate(-27 0.3 17.8)"/>
<ellipse cx="7.5" cy="22.5" rx="2.9" ry="2.1" fill="#1b4f6c" transform="rotate(-27 7.5 22.5)"/>
<ellipse cx="14.7" cy="27.2" rx="2.9" ry="2.1" fill="#1b4f6c" transform="rotate(-27 14.7 27.2)"/>
<ellipse cx="21.9" cy="31.9" rx="2.9" ry="2.1" fill="#1b4f6c" transform="rotate(-27 21.9 31.9)"/>
<ellipse cx="29.1" cy="36.6" rx="2.9" ry="2.1" fill="#1b4f6c" transform="rotate(-27 29.1 36.6)"/>
<ellipse cx="36.3" cy="41.3" rx="2.9" ry="2.1" fill="#1b4f6c" transform="rotate(-27 36.3 41.3)"/>
<ellipse cx="43.5" cy="46.0" rx="2.9" ry="2.1" fill="#1b4f6c" transform="rotate(-27 43.5 46.0)"/>
<ellipse cx="50.7" cy="50.7" rx="2.9" ry="2.1" fill="#1b4f6c" transform="rotate(-27 50.7 50.7)"/>
<ellipse cx="57.9" cy="55.4" rx="2.9" ry="2.1" fill="#1b4f6c" transform="rotate(-27 57.9 55.4)"/>
<ellipse cx="65.1" cy="60.1" rx="2.9" ry="2.1" fill="#1b4f6c" transform="rotate(-27 65.1 60.1)"/>
<ellipse cx="72.3" cy="64.8" rx="2.9" ry="2.1" fill="#1b4f6c" transform="rotate(-27 72.3 64.8)"/>
<ellipse cx="79.5" cy="69.5" rx="2.9" ry="2.1" fill="#1b4f6c" transform="rotate(-27 79.5 69.5)"/>
<ellipse cx="86.7" cy="74.2" rx="2.9" ry="2.1" fill="#1b4f6c" transform="rotate(-27 86.7 74.2)"/>
<ellipse cx="93.9" cy="78.9" rx="2.9" ry="2.1" fill="#1b4f6c" transform="rotate(-27 93.9 78.9)"/>
<ellipse cx="101.1" cy="83.6" rx="2.9" ry="2.1" fill="#1b4f6c" transform="rotate(-27 101.1 83.6)"/>
<ellipse cx="108.3" cy="88.3" rx="2.9" ry="2.1" fill="#1b4f6c" transform="rotate(-27 108.3 88.3)"/>
<ellipse cx="0.8" cy="9.2" rx="2.9" ry="2.1" fill="#1b4f6c" transform="rotate(-27 0.8 9.2)"/>
<ellipse cx="8.0" cy="13.9" rx="2.9" ry="2.1" fill="#1b4f6c" transform="rotate(-27 8.0 13.9)"/>
<ellipse cx="15.2" cy="18.6" rx="2.9" ry="2.1" fill="#1b4f6c" transform="rotate(-27 15.2 18.6)"/>
<ellipse cx="22.4" cy="23.3" rx="2.9" ry="2.1" fill="#1b4f6c" transform="rotate(-27 22.4 23.3)"/>
<ellipse cx="29.6" cy="28.0" rx="2.9" ry="2.1" fill="#1b4f6c" transform="rotate(-27 29.6 28.0)"/>
<ellipse cx="36.8" cy="32.7" rx="2.9" ry="2.1" fill="#1b4f6c" transform="rotate(-27 36.8 32.7)"/>
<ellipse cx="44.0" cy="37.4" rx="2.9" ry="2.1" fill="#1b4f6c" transform="rotate(-27 44.0 37.4)"/>
<ellipse cx="51.2" cy="42.1" rx="2.9" ry="2.1" fill="#1b4f6c" transform="rotate(-27 51.2 42.1)"/>
<ellipse cx="58.4" cy="46.8" rx="2.9" ry="2.1" fill="#1b4f6c" transform="rotate(-27 58.4 46.8)"/>
<ellipse cx="65.6" cy="51.5" rx="2.9" ry="2.1" fill="#1b4f6c" transform="rotate(-27 65.6 51.5)"/>
<ellipse cx="72.8" cy="56.2" rx="2.9" ry="2.1" fill="#1b4f6c" transform="rotate(-27 72.8 56.2)"/>
<ellipse cx="80.0" cy="60.9" rx="2.9" ry="2.1" fill="#1b4f6c" transform="rotate(-27 80.0 60.9)"/>
<ellipse cx="87.2" cy="65.6" rx="2.9" ry="2.1" fill="#1b4f6c" transform="rotate(-27 87.2 65.6)"/>
<ellipse cx="94.4" cy="70.3" rx="2.9" ry="2.1" fill="#1b4f6c" transform="rotate(-27 94.4 70.3)"/>
<ellipse cx="101.6" cy="75.0" rx="2.9" ry="2.1" fill="#1b4f6c" transform="rotate(-27 101.6 75.0)"/>
<ellipse cx="108.8" cy="79.7" rx="2.9" ry="2.1" fill="#1b4f6c" transform="rotate(-27 108.8 79.7)"/>
<ellipse cx="1.3" cy="0.6" rx="2.9" ry="2.1" fill="#1b4f6c" transform="rotate(-27 1.3 0.6)"/>
<ellipse cx="8.5" cy="5.3" rx="2.9" ry="2.1" fill="#1b4f6c" transform="rotate(-27 8.5 5.3)"/>
<ellipse cx="15.7" cy="10.0" rx="2.9" ry="2.1" fill="#1b4f6c" transform="rotate(-27 15.7 10.0)"/>
<ellipse cx="22.9" cy="14.7" rx="2.9" ry="2.1" fill="#1b4f6c" transform="rotate(-27 22.9 14.7)"/>
<ellipse cx="30.1" cy="19.4" rx="2.9" ry="2.1" fill="#1b4f6c" transform="rotate(-27 30.1 19.4)"/>
<ellipse cx="37.3" cy="24.1" rx="2.9" ry="2.1" fill="#1b4f6c" transform="rotate(-27 37.3 24.1)"/>
<ellipse cx="44.5" cy="28.8" rx="2.9" ry="2.1" fill="#1b4f6c" transform="rotate(-27 44.5 28.8)"/>
<ellipse cx="51.7" cy="33.5" rx="2.9" ry="2.1" fill="#1b4f6c" transform="rotate(-27 51.7 33.5)"/>
<ellipse cx="58.9" cy="38.2" rx="2.9" ry="2.1" fill="#1b4f6c" transform="rotate(-27 58.9 38.2)"/>
<ellipse cx="66.1" cy="42.9" rx="2.9" ry="2.1" fill="#1b4f6c" transform="rotate(-27 66.1 42.9)"/>
<ellipse cx="73.3" cy="47.6" rx="2.9" ry="2.1" fill="#1b4f6c" transform="rotate(-27 73.3 47.6)"/>
<ellipse cx="80.5" cy="52.3" rx="2.9" ry="2.1" fill="#1b4f6c" transform="rotate(-27 80.5 52.3)"/>
<ellipse cx="87.7" cy="57.0" rx="2.9" ry="2.1" fill="#1b4f6c" transform="rotate(-27 87.7 57.0)"/>
<ellipse cx="94.9" cy="61.7" rx="2.9" ry="2.1" fill="#1b4f6c" transform="rotate(-27 94.9 61.7)"/>
<ellipse cx="102.1" cy="66.4" rx="2.9" ry="2.1" fill="#1b4f6c" transform="rotate(-27 102.1 66.4)"/>
<ellipse cx="109.3" cy="71.1" rx="2.9" ry="2.1" fill="#1b4f6c" transform="rotate(-27 109.3 71.1)"/>
<ellipse cx="8.9" cy="-3.3" rx="2.9" ry="2.1" fill="#1b4f6c" transform="rotate(-27 8.9 -3.3)"/>
<ellipse cx="16.1" cy="1.4" rx="2.9" ry="2.1" fill="#1b4f6c" transform="rotate(-27 16.1 1.4)"/>
<ellipse cx="23.3" cy="6.1" rx="2.9" ry="2.1" fill="#1b4f6c" transform="rotate(-27 23.3 6.1)"/>
<ellipse cx="30.5" cy="10.8" rx="2.9" ry="2.1" fill="#1b4f6c" transform="rotate(-27 30.5 10.8)"/>
<ellipse cx="37.7" cy="15.5" rx="2.9" ry="2.1" fill="#1b4f6c" transform="rotate(-27 37.7 15.5)"/>
<ellipse cx="44.9" cy="20.2" rx="2.9" ry="2.1" fill="#1b4f6c" transform="rotate(-27 44.9 20.2)"/>
<ellipse cx="52.1" cy="24.9" rx="2.9" ry="2.1" fill="#1b4f6c" transform="rotate(-27 52.1 24.9)"/>
<ellipse cx="59.3" cy="29.6" rx="2.9" ry="2.1" fill="#1b4f6c" transform="rotate(-27 59.3 29.6)"/>
<ellipse cx="66.5" cy="34.3" rx="2.9" ry="2.1" fill="#1b4f6c" transform="rotate(-27 66.5 34.3)"/>
<ellipse cx="73.7" cy="39.0" rx="2.9" ry="2.1" fill="#1b4f6c" transform="rotate(-27 73.7 39.0)"/>
<ellipse cx="80.9" cy="43.7" rx="2.9" ry="2.1" fill="#1b4f6c" transform="rotate(-27 80.9 43.7)"/>
<ellipse cx="88.1" cy="48.4" rx="2.9" ry="2.1" fill="#1b4f6c" transform="rotate(-27 88.1 48.4)"/>
<ellipse cx="95.3" cy="53.1" rx="2.9" ry="2.1" fill="#1b4f6c" transform="rotate(-27 95.3 53.1)"/>
<ellipse cx="102.5" cy="57.8" rx="2.9" ry="2.1" fill="#1b4f6c" transform="rotate(-27 102.5 57.8)"/>
<ellipse cx="109.7" cy="62.5" rx="2.9" ry="2.1" fill="#1b4f6c" transform="rotate(-27 109.7 62.5)"/>
<ellipse cx="23.8" cy="-2.5" rx="2.9" ry="2.1" fill="#1b4f6c" transform="rotate(-27 23.8 -2.5)"/>
<ellipse cx="31.0" cy="2.2" rx="2.9" ry="2.1" fill="#1b4f6c" transform="rotate(-27 31.0 2.2)"/>
<ellipse cx="38.2" cy="6.9" rx="2.9" ry="2.1" fill="#1b4f6c" transform="rotate(-27 38.2 6.9)"/>
<ellipse cx="45.4" cy="11.6" rx="2.9" ry="2.1" fill="#1b4f6c" transform="rotate(-27 45.4 11.6)"/>
<ellipse cx="52.6" cy="16.3" rx="2.9" ry="2.1" fill="#1b4f6c" transform="rotate(-27 52.6 16.3)"/>
<ellipse cx="59.8" cy="21.0" rx="2.9" ry="2.1" fill="#1b4f6c" transform="rotate(-27 59.8 21.0)"/>
<ellipse cx="67.0" cy="25.7" rx="2.9" ry="2.1" fill="#1b4f6c" transform="rotate(-27 67.0 25.7)"/>
<ellipse cx="74.2" cy="30.4" rx="2.9" ry="2.1" fill="#1b4f6c" transform="rotate(-27 74.2 30.4)"/>
<ellipse cx="81.4" cy="35.1" rx="2.9" ry="2.1" fill="#1b4f6c" transform="rotate(-27 81.4 35.1)"/>
<ellipse cx="88.6" cy="39.8" rx="2.9" ry="2.1" fill="#1b4f6c" transform="rotate(-27 88.6 39.8)"/>
<ellipse cx="95.8" cy="44.5" rx="2.9" ry="2.1" fill="#1b4f6c" transform="rotate(-27 95.8 44.5)"/>
<ellipse cx="103.0" cy="49.2" rx="2.9" ry="2.1" fill="#1b4f6c" transform="rotate(-27 103.0 49.2)"/>
<ellipse cx="110.2" cy="53.9" rx="2.9" ry="2.1" fill="#1b4f6c" transform="rotate(-27 110.2 53.9)"/>
<ellipse cx="38.6" cy="-1.7" rx="2.9" ry="2.1" fill="#1b4f6c" transform="rotate(-27 38.6 -1.7)"/>
<ellipse cx="45.8" cy="3.0" rx="2.9" ry="2.1" fill="#1b4f6c" transform="rotate(-27 45.8 3.0)"/>
<ellipse cx="53.0" cy="7.7" rx="2.9" ry="2.1" fill="#1b4f6c" transform="rotate(-27 53.0 7.7)"/>
<ellipse cx="60.2" cy="12.4" rx="2.9" ry="2.1" fill="#1b4f6c" transform="rotate(-27 60.2 12.4)"/>
<ellipse cx="67.4" cy="17.1" rx="2.9" ry="2.1" fill="#1b4f6c" transform="rotate(-27 67.4 17.1)"/>
<ellipse cx="74.6" cy="21.8" rx="2.9" ry="2.1" fill="#1b4f6c" transform="rotate(-27 74.6 21.8)"/>
<ellipse cx="81.8" cy="26.5" rx="2.9" ry="2.1" fill="#1b4f6c" transform="rotate(-27 81.8 26.5)"/>
<ellipse cx="89.0" cy="31.2" rx="2.9" ry="2.1" fill="#1b4f6c" transform="rotate(-27 89.0 31.2)"/>
<ellipse cx="96.2" cy="35.9" rx="2.9" ry="2.1" fill="#1b4f6c" transform="rotate(-27 96.2 35.9)"/>
<ellipse cx="103.4" cy="40.6" rx="2.9" ry="2.1" fill="#1b4f6c" transform="rotate(-27 103.4 40.6)"/>
<ellipse cx="110.6" cy="45.3" rx="2.9" ry="2.1" fill="#1b4f6c" transform="rotate(-27 110.6 45.3)"/>
<ellipse cx="46.3" cy="-5.6" rx="2.9" ry="2.1" fill="#1b4f6c" transform="rotate(-27 46.3 -5.6)"/>
<ellipse cx="53.5" cy="-0.9" rx="2.9" ry="2.1" fill="#1b4f6c" transform="rotate(-27 53.5 -0.9)"/>
<ellipse cx="60.7" cy="3.8" rx="2.9" ry="2.1" fill="#1b4f6c" transform="rotate(-27 60.7 3.8)"/>
<ellipse cx="67.9" cy="8.5" rx="2.9" ry="2.1" fill="#1b4f6c" transform="rotate(-27 67.9 8.5)"/>
<ellipse cx="75.1" cy="13.2" rx="2.9" ry="2.1" fill="#1b4f6c" transform="rotate(-27 75.1 13.2)"/>
<ellipse cx="82.3" cy="17.9" rx="2.9" ry="2.1" fill="#1b4f6c" transform="rotate(-27 82.3 17.9)"/>
<ellipse cx="89.5" cy="22.6" rx="2.9" ry="2.1" fill="#1b4f6c" transform="rotate(-27 89.5 22.6)"/>
<ellipse cx="96.7" cy="27.3" rx="2.9" ry="2.1" fill="#1b4f6c" transform="rotate(-27 96.7 27.3)"/>
<ellipse cx="103.9" cy="32.0" rx="2.9" ry="2.1" fill="#1b4f6c" transform="rotate(-27 103.9 32.0)"/>
<ellipse cx="111.1" cy="36.7" rx="2.9" ry="2.1" fill="#1b4f6c" transform="rotate(-27 111.1 36.7)"/>
<ellipse cx="61.2" cy="-4.8" rx="2.9" ry="2.1" fill="#1b4f6c" transform="rotate(-27 61.2 -4.8)"/>
<ellipse cx="68.4" cy="-0.1" rx="2.9" ry="2.1" fill="#1b4f6c" transform="rotate(-27 68.4 -0.1)"/>
<ellipse cx="75.6" cy="4.6" rx="2.9" ry="2.1" fill="#1b4f6c" transform="rotate(-27 75.6 4.6)"/>
<ellipse cx="82.8" cy="9.3" rx="2.9" ry="2.1" fill="#1b4f6c" transform="rotate(-27 82.8 9.3)"/>
<ellipse cx="90.0" cy="14.0" rx="2.9" ry="2.1" fill="#1b4f6c" transform="rotate(-27 90.0 14.0)"/>
<ellipse cx="97.2" cy="18.7" rx="2.9" ry="2.1" fill="#1b4f6c" transform="rotate(-27 97.2 18.7)"/>
<ellipse cx="104.4" cy="23.4" rx="2.9" ry="2.1" fill="#1b4f6c" transform="rotate(-27 104.4 23.4)"/>
<ellipse cx="111.6" cy="28.1" rx="2.9" ry="2.1" fill="#1b4f6c" transform="rotate(-27 111.6 28.1)"/>
<ellipse cx="76.0" cy="-4.0" rx="2.9" ry="2.1" fill="#1b4f6c" transform="rotate(-27 76.0 -4.0)"/>
<ellipse cx="83.2" cy="0.7" rx="2.9" ry="2.1" fill="#1b4f6c" transform="rotate(-27 83.2 0.7)"/>
<ellipse cx="90.4" cy="5.4" rx="2.9" ry="2.1" fill="#1b4f6c" transform="rotate(-27 90.4 5.4)"/>
<ellipse cx="97.6" cy="10.1" rx="2.9" ry="2.1" fill="#1b4f6c" transform="rotate(-27 97.6 10.1)"/>
<ellipse cx="104.8" cy="14.8" rx="2.9" ry="2.1" fill="#1b4f6c" transform="rotate(-27 104.8 14.8)"/>
<ellipse cx="112.0" cy="19.5" rx="2.9" ry="2.1" fill="#1b4f6c" transform="rotate(-27 112.0 19.5)"/>
<ellipse cx="90.9" cy="-3.2" rx="2.9" ry="2.1" fill="#1b4f6c" transform="rotate(-27 90.9 -3.2)"/>
<ellipse cx="98.1" cy="1.5" rx="2.9" ry="2.1" fill="#1b4f6c" transform="rotate(-27 98.1 1.5)"/>
<ellipse cx="105.3" cy="6.2" rx="2.9" ry="2.1" fill="#1b4f6c" transform="rotate(-27 105.3 6.2)"/>
<ellipse cx="112.5" cy="10.9" rx="2.9" ry="2.1" fill="#1b4f6c" transform="rotate(-27 112.5 10.9)"/>
<ellipse cx="105.7" cy="-2.4" rx="2.9" ry="2.1" fill="#1b4f6c" transform="rotate(-27 105.7 -2.4)"/>
<ellipse cx="112.9" cy="2.3" rx="2.9" ry="2.1" fill="#1b4f6c" transform="rotate(-27 112.9 2.3)"/>
<ellipse cx="-2.0" cy="108.2" rx="2.8" ry="2.0" fill="#84eeb4" transform="rotate(-27 -2.0 108.2)"/>
<ellipse cx="-1.6" cy="99.6" rx="2.8" ry="2.0" fill="#7ee8b0" transform="rotate(-27 -1.6 99.6)"/>
<ellipse cx="5.6" cy="104.3" rx="2.8" ry="2.0" fill="#7ee8b0" transform="rotate(-27 5.6 104.3)"/>
<ellipse cx="-1.1" cy="91.0" rx="2.8" ry="2.0" fill="#84eeb4" transform="rotate(-27 -1.1 91.0)"/>
<ellipse cx="6.1" cy="95.7" rx="2.8" ry="2.0" fill="#86f0a6" transform="rotate(-27 6.1 95.7)"/>
<ellipse cx="13.3" cy="100.4" rx="2.8" ry="2.0" fill="#9af69c" transform="rotate(-27 13.3 100.4)"/>
<ellipse cx="20.5" cy="105.1" rx="2.8" ry="2.0" fill="#8cf4a2" transform="rotate(-27 20.5 105.1)"/>
<ellipse cx="-0.6" cy="82.4" rx="2.8" ry="2.0" fill="#86f0a6" transform="rotate(-27 -0.6 82.4)"/>
<ellipse cx="6.6" cy="87.1" rx="2.8" ry="2.0" fill="#8cf4a2" transform="rotate(-27 6.6 87.1)"/>
<ellipse cx="13.8" cy="91.8" rx="2.8" ry="2.0" fill="#86f0a6" transform="rotate(-27 13.8 91.8)"/>
<ellipse cx="21.0" cy="96.5" rx="2.8" ry="2.0" fill="#7ee8b0" transform="rotate(-27 21.0 96.5)"/>
<ellipse cx="28.2" cy="101.2" rx="2.8" ry="2.0" fill="#9af69c" transform="rotate(-27 28.2 101.2)"/>
<ellipse cx="35.4" cy="105.9" rx="2.8" ry="2.0" fill="#8cf4a2" transform="rotate(-27 35.4 105.9)"/>
<ellipse cx="-0.2" cy="73.8" rx="2.8" ry="2.0" fill="#9af69c" transform="rotate(-27 -0.2 73.8)"/>
<ellipse cx="7.0" cy="78.5" rx="2.8" ry="2.0" fill="#84eeb4" transform="rotate(-27 7.0 78.5)"/>
<ellipse cx="14.2" cy="83.2" rx="2.8" ry="2.0" fill="#86f0a6" transform="rotate(-27 14.2 83.2)"/>
<ellipse cx="21.4" cy="87.9" rx="2.8" ry="2.0" fill="#84eeb4" transform="rotate(-27 21.4 87.9)"/>
<ellipse cx="28.6" cy="92.6" rx="2.8" ry="2.0" fill="#8cf4a2" transform="rotate(-27 28.6 92.6)"/>
<ellipse cx="35.8" cy="97.3" rx="2.8" ry="2.0" fill="#86f0a6" transform="rotate(-27 35.8 97.3)"/>
<ellipse cx="43.0" cy="102.0" rx="2.8" ry="2.0" fill="#8cf4a2" transform="rotate(-27 43.0 102.0)"/>
<ellipse cx="50.2" cy="106.7" rx="2.8" ry="2.0" fill="#9af69c" transform="rotate(-27 50.2 106.7)"/>
<ellipse cx="0.3" cy="65.2" rx="2.8" ry="2.0" fill="#7ee8b0" transform="rotate(-27 0.3 65.2)"/>
<ellipse cx="7.5" cy="69.9" rx="2.8" ry="2.0" fill="#8cf4a2" transform="rotate(-27 7.5 69.9)"/>
<ellipse cx="14.7" cy="74.6" rx="2.8" ry="2.0" fill="#9af69c" transform="rotate(-27 14.7 74.6)"/>
<ellipse cx="21.9" cy="79.3" rx="2.8" ry="2.0" fill="#8cf4a2" transform="rotate(-27 21.9 79.3)"/>
<ellipse cx="29.1" cy="84.0" rx="2.8" ry="2.0" fill="#86f0a6" transform="rotate(-27 29.1 84.0)"/>
<ellipse cx="36.3" cy="88.7" rx="2.8" ry="2.0" fill="#8cf4a2" transform="rotate(-27 36.3 88.7)"/>
<ellipse cx="43.5" cy="93.4" rx="2.8" ry="2.0" fill="#84eeb4" transform="rotate(-27 43.5 93.4)"/>
<ellipse cx="50.7" cy="98.1" rx="2.8" ry="2.0" fill="#84eeb4" transform="rotate(-27 50.7 98.1)"/>
<ellipse cx="57.9" cy="102.8" rx="2.8" ry="2.0" fill="#9af69c" transform="rotate(-27 57.9 102.8)"/>
<ellipse cx="65.1" cy="107.5" rx="2.8" ry="2.0" fill="#8cf4a2" transform="rotate(-27 65.1 107.5)"/>
<ellipse cx="0.7" cy="56.6" rx="2.8" ry="2.0" fill="#8cf4a2" transform="rotate(-27 0.7 56.6)"/>
<ellipse cx="7.9" cy="61.3" rx="2.8" ry="2.0" fill="#86f0a6" transform="rotate(-27 7.9 61.3)"/>
<ellipse cx="15.1" cy="66.0" rx="2.8" ry="2.0" fill="#86f0a6" transform="rotate(-27 15.1 66.0)"/>
<ellipse cx="22.3" cy="70.7" rx="2.8" ry="2.0" fill="#8cf4a2" transform="rotate(-27 22.3 70.7)"/>
<ellipse cx="29.5" cy="75.4" rx="2.8" ry="2.0" fill="#8cf4a2" transform="rotate(-27 29.5 75.4)"/>
<ellipse cx="36.7" cy="80.1" rx="2.8" ry="2.0" fill="#8cf4a2" transform="rotate(-27 36.7 80.1)"/>
<ellipse cx="43.9" cy="84.8" rx="2.8" ry="2.0" fill="#8cf4a2" transform="rotate(-27 43.9 84.8)"/>
<ellipse cx="51.1" cy="89.5" rx="2.8" ry="2.0" fill="#7ee8b0" transform="rotate(-27 51.1 89.5)"/>
<ellipse cx="58.3" cy="94.2" rx="2.8" ry="2.0" fill="#7ee8b0" transform="rotate(-27 58.3 94.2)"/>
<ellipse cx="65.5" cy="98.9" rx="2.8" ry="2.0" fill="#8cf4a2" transform="rotate(-27 65.5 98.9)"/>
<ellipse cx="72.7" cy="103.6" rx="2.8" ry="2.0" fill="#84eeb4" transform="rotate(-27 72.7 103.6)"/>
<ellipse cx="79.9" cy="108.3" rx="2.8" ry="2.0" fill="#8cf4a2" transform="rotate(-27 79.9 108.3)"/>
<ellipse cx="-6.0" cy="43.3" rx="2.8" ry="2.0" fill="#8cf4a2" transform="rotate(-27 -6.0 43.3)"/>
<ellipse cx="1.2" cy="48.0" rx="2.8" ry="2.0" fill="#8cf4a2" transform="rotate(-27 1.2 48.0)"/>
<ellipse cx="8.4" cy="52.7" rx="2.8" ry="2.0" fill="#9af69c" transform="rotate(-27 8.4 52.7)"/>
<ellipse cx="15.6" cy="57.4" rx="2.8" ry="2.0" fill="#7ee8b0" transform="rotate(-27 15.6 57.4)"/>
<ellipse cx="22.8" cy="62.1" rx="2.8" ry="2.0" fill="#86f0a6" transform="rotate(-27 22.8 62.1)"/>
<ellipse cx="30.0" cy="66.8" rx="2.8" ry="2.0" fill="#7ee8b0" transform="rotate(-27 30.0 66.8)"/>
<ellipse cx="37.2" cy="71.5" rx="2.8" ry="2.0" fill="#9af69c" transform="rotate(-27 37.2 71.5)"/>
<ellipse cx="44.4" cy="76.2" rx="2.8" ry="2.0" fill="#8cf4a2" transform="rotate(-27 44.4 76.2)"/>
<ellipse cx="51.6" cy="80.9" rx="2.8" ry="2.0" fill="#8cf4a2" transform="rotate(-27 51.6 80.9)"/>
<ellipse cx="58.8" cy="85.6" rx="2.8" ry="2.0" fill="#7ee8b0" transform="rotate(-27 58.8 85.6)"/>
<ellipse cx="66.0" cy="90.3" rx="2.8" ry="2.0" fill="#86f0a6" transform="rotate(-27 66.0 90.3)"/>
<ellipse cx="73.2" cy="95.0" rx="2.8" ry="2.0" fill="#7ee8b0" transform="rotate(-27 73.2 95.0)"/>
<ellipse cx="80.4" cy="99.7" rx="2.8" ry="2.0" fill="#7ee8b0" transform="rotate(-27 80.4 99.7)"/>
<ellipse cx="87.6" cy="104.4" rx="2.8" ry="2.0" fill="#84eeb4" transform="rotate(-27 87.6 104.4)"/>
<ellipse cx="-5.5" cy="34.7" rx="2.8" ry="2.0" fill="#84eeb4" transform="rotate(-27 -5.5 34.7)"/>
<ellipse cx="1.7" cy="39.4" rx="2.8" ry="2.0" fill="#86f0a6" transform="rotate(-27 1.7 39.4)"/>
<ellipse cx="8.9" cy="44.1" rx="2.8" ry="2.0" fill="#84eeb4" transform="rotate(-27 8.9 44.1)"/>
<ellipse cx="16.1" cy="48.8" rx="2.8" ry="2.0" fill="#7ee8b0" transform="rotate(-27 16.1 48.8)"/>
<ellipse cx="23.3" cy="53.5" rx="2.8" ry="2.0" fill="#86f0a6" transform="rotate(-27 23.3 53.5)"/>
<ellipse cx="30.5" cy="58.2" rx="2.8" ry="2.0" fill="#7ee8b0" transform="rotate(-27 30.5 58.2)"/>
<ellipse cx="37.7" cy="62.9" rx="2.8" ry="2.0" fill="#7ee8b0" transform="rotate(-27 37.7 62.9)"/>
<ellipse cx="44.9" cy="67.6" rx="2.8" ry="2.0" fill="#7ee8b0" transform="rotate(-27 44.9 67.6)"/>
<ellipse cx="52.1" cy="72.3" rx="2.8" ry="2.0" fill="#9af69c" transform="rotate(-27 52.1 72.3)"/>
<ellipse cx="59.3" cy="77.0" rx="2.8" ry="2.0" fill="#7ee8b0" transform="rotate(-27 59.3 77.0)"/>
<ellipse cx="66.5" cy="81.7" rx="2.8" ry="2.0" fill="#8cf4a2" transform="rotate(-27 66.5 81.7)"/>
<ellipse cx="73.7" cy="86.4" rx="2.8" ry="2.0" fill="#9af69c" transform="rotate(-27 73.7 86.4)"/>
<ellipse cx="80.9" cy="91.1" rx="2.8" ry="2.0" fill="#9af69c" transform="rotate(-27 80.9 91.1)"/>
<ellipse cx="88.1" cy="95.8" rx="2.8" ry="2.0" fill="#8cf4a2" transform="rotate(-27 88.1 95.8)"/>
<ellipse cx="95.3" cy="100.5" rx="2.8" ry="2.0" fill="#86f0a6" transform="rotate(-27 95.3 100.5)"/>
<ellipse cx="102.5" cy="105.2" rx="2.8" ry="2.0" fill="#7ee8b0" transform="rotate(-27 102.5 105.2)"/>
<ellipse cx="-5.1" cy="26.1" rx="2.8" ry="2.0" fill="#86f0a6" transform="rotate(-27 -5.1 26.1)"/>
<ellipse cx="2.1" cy="30.8" rx="2.8" ry="2.0" fill="#7ee8b0" transform="rotate(-27 2.1 30.8)"/>
<ellipse cx="9.3" cy="35.5" rx="2.8" ry="2.0" fill="#9af69c" transform="rotate(-27 9.3 35.5)"/>
<ellipse cx="16.5" cy="40.2" rx="2.8" ry="2.0" fill="#86f0a6" transform="rotate(-27 16.5 40.2)"/>
<ellipse cx="23.7" cy="44.9" rx="2.8" ry="2.0" fill="#84eeb4" transform="rotate(-27 23.7 44.9)"/>
<ellipse cx="30.9" cy="49.6" rx="2.8" ry="2.0" fill="#9af69c" transform="rotate(-27 30.9 49.6)"/>
<ellipse cx="38.1" cy="54.3" rx="2.8" ry="2.0" fill="#7ee8b0" transform="rotate(-27 38.1 54.3)"/>
<ellipse cx="45.3" cy="59.0" rx="2.8" ry="2.0" fill="#9af69c" transform="rotate(-27 45.3 59.0)"/>
<ellipse cx="52.5" cy="63.7" rx="2.8" ry="2.0" fill="#84eeb4" transform="rotate(-27 52.5 63.7)"/>
<ellipse cx="59.7" cy="68.4" rx="2.8" ry="2.0" fill="#86f0a6" transform="rotate(-27 59.7 68.4)"/>
<ellipse cx="66.9" cy="73.1" rx="2.8" ry="2.0" fill="#9af69c" transform="rotate(-27 66.9 73.1)"/>
<ellipse cx="74.1" cy="77.8" rx="2.8" ry="2.0" fill="#86f0a6" transform="rotate(-27 74.1 77.8)"/>
<ellipse cx="81.3" cy="82.5" rx="2.8" ry="2.0" fill="#8cf4a2" transform="rotate(-27 81.3 82.5)"/>
<ellipse cx="88.5" cy="87.2" rx="2.8" ry="2.0" fill="#84eeb4" transform="rotate(-27 88.5 87.2)"/>
<ellipse cx="95.7" cy="91.9" rx="2.8" ry="2.0" fill="#8cf4a2" transform="rotate(-27 95.7 91.9)"/>
<ellipse cx="102.9" cy="96.6" rx="2.8" ry="2.0" fill="#86f0a6" transform="rotate(-27 102.9 96.6)"/>
<ellipse cx="-4.6" cy="17.5" rx="2.8" ry="2.0" fill="#8cf4a2" transform="rotate(-27 -4.6 17.5)"/>
<ellipse cx="2.6" cy="22.2" rx="2.8" ry="2.0" fill="#9af69c" transform="rotate(-27 2.6 22.2)"/>
<ellipse cx="9.8" cy="26.9" rx="2.8" ry="2.0" fill="#7ee8b0" transform="rotate(-27 9.8 26.9)"/>
<ellipse cx="17.0" cy="31.6" rx="2.8" ry="2.0" fill="#84eeb4" transform="rotate(-27 17.0 31.6)"/>
<ellipse cx="24.2" cy="36.3" rx="2.8" ry="2.0" fill="#7ee8b0" transform="rotate(-27 24.2 36.3)"/>
<ellipse cx="31.4" cy="41.0" rx="2.8" ry="2.0" fill="#84eeb4" transform="rotate(-27 31.4 41.0)"/>
<ellipse cx="38.6" cy="45.7" rx="2.8" ry="2.0" fill="#7ee8b0" transform="rotate(-27 38.6 45.7)"/>
<ellipse cx="45.8" cy="50.4" rx="2.8" ry="2.0" fill="#9af69c" transform="rotate(-27 45.8 50.4)"/>
<ellipse cx="53.0" cy="55.1" rx="2.8" ry="2.0" fill="#86f0a6" transform="rotate(-27 53.0 55.1)"/>
<ellipse cx="60.2" cy="59.8" rx="2.8" ry="2.0" fill="#84eeb4" transform="rotate(-27 60.2 59.8)"/>
<ellipse cx="67.4" cy="64.5" rx="2.8" ry="2.0" fill="#7ee8b0" transform="rotate(-27 67.4 64.5)"/>
<ellipse cx="74.6" cy="69.2" rx="2.8" ry="2.0" fill="#7ee8b0" transform="rotate(-27 74.6 69.2)"/>
<ellipse cx="81.8" cy="73.9" rx="2.8" ry="2.0" fill="#86f0a6" transform="rotate(-27 81.8 73.9)"/>
<ellipse cx="89.0" cy="78.6" rx="2.8" ry="2.0" fill="#9af69c" transform="rotate(-27 89.0 78.6)"/>
<ellipse cx="96.2" cy="83.3" rx="2.8" ry="2.0" fill="#86f0a6" transform="rotate(-27 96.2 83.3)"/>
<ellipse cx="103.4" cy="88.0" rx="2.8" ry="2.0" fill="#8cf4a2" transform="rotate(-27 103.4 88.0)"/>
<ellipse cx="-4.2" cy="8.9" rx="2.8" ry="2.0" fill="#7ee8b0" transform="rotate(-27 -4.2 8.9)"/>
<ellipse cx="3.0" cy="13.6" rx="2.8" ry="2.0" fill="#84eeb4" transform="rotate(-27 3.0 13.6)"/>
<ellipse cx="10.2" cy="18.3" rx="2.8" ry="2.0" fill="#84eeb4" transform="rotate(-27 10.2 18.3)"/>
<ellipse cx="17.4" cy="23.0" rx="2.8" ry="2.0" fill="#7ee8b0" transform="rotate(-27 17.4 23.0)"/>
<ellipse cx="24.6" cy="27.7" rx="2.8" ry="2.0" fill="#8cf4a2" transform="rotate(-27 24.6 27.7)"/>
<ellipse cx="31.8" cy="32.4" rx="2.8" ry="2.0" fill="#7ee8b0" transform="rotate(-27 31.8 32.4)"/>
<ellipse cx="39.0" cy="37.1" rx="2.8" ry="2.0" fill="#7ee8b0" transform="rotate(-27 39.0 37.1)"/>
<ellipse cx="46.2" cy="41.8" rx="2.8" ry="2.0" fill="#84eeb4" transform="rotate(-27 46.2 41.8)"/>
<ellipse cx="53.4" cy="46.5" rx="2.8" ry="2.0" fill="#86f0a6" transform="rotate(-27 53.4 46.5)"/>
<ellipse cx="60.6" cy="51.2" rx="2.8" ry="2.0" fill="#7ee8b0" transform="rotate(-27 60.6 51.2)"/>
<ellipse cx="67.8" cy="55.9" rx="2.8" ry="2.0" fill="#7ee8b0" transform="rotate(-27 67.8 55.9)"/>
<ellipse cx="75.0" cy="60.6" rx="2.8" ry="2.0" fill="#7ee8b0" transform="rotate(-27 75.0 60.6)"/>
<ellipse cx="82.2" cy="65.3" rx="2.8" ry="2.0" fill="#8cf4a2" transform="rotate(-27 82.2 65.3)"/>
<ellipse cx="89.4" cy="70.0" rx="2.8" ry="2.0" fill="#86f0a6" transform="rotate(-27 89.4 70.0)"/>
<ellipse cx="96.6" cy="74.7" rx="2.8" ry="2.0" fill="#8cf4a2" transform="rotate(-27 96.6 74.7)"/>
<ellipse cx="103.8" cy="79.4" rx="2.8" ry="2.0" fill="#7ee8b0" transform="rotate(-27 103.8 79.4)"/>
<ellipse cx="-3.7" cy="0.3" rx="2.8" ry="2.0" fill="#9af69c" transform="rotate(-27 -3.7 0.3)"/>
<ellipse cx="3.5" cy="5.0" rx="2.8" ry="2.0" fill="#8cf4a2" transform="rotate(-27 3.5 5.0)"/>
<ellipse cx="10.7" cy="9.7" rx="2.8" ry="2.0" fill="#86f0a6" transform="rotate(-27 10.7 9.7)"/>
<ellipse cx="17.9" cy="14.4" rx="2.8" ry="2.0" fill="#86f0a6" transform="rotate(-27 17.9 14.4)"/>
<ellipse cx="25.1" cy="19.1" rx="2.8" ry="2.0" fill="#84eeb4" transform="rotate(-27 25.1 19.1)"/>
<ellipse cx="32.3" cy="23.8" rx="2.8" ry="2.0" fill="#84eeb4" transform="rotate(-27 32.3 23.8)"/>
<ellipse cx="39.5" cy="28.5" rx="2.8" ry="2.0" fill="#9af69c" transform="rotate(-27 39.5 28.5)"/>
<ellipse cx="46.7" cy="33.2" rx="2.8" ry="2.0" fill="#86f0a6" transform="rotate(-27 46.7 33.2)"/>
<ellipse cx="53.9" cy="37.9" rx="2.8" ry="2.0" fill="#8cf4a2" transform="rotate(-27 53.9 37.9)"/>
<ellipse cx="61.1" cy="42.6" rx="2.8" ry="2.0" fill="#84eeb4" transform="rotate(-27 61.1 42.6)"/>
<ellipse cx="68.3" cy="47.3" rx="2.8" ry="2.0" fill="#7ee8b0" transform="rotate(-27 68.3 47.3)"/>
<ellipse cx="75.5" cy="52.0" rx="2.8" ry="2.0" fill="#7ee8b0" transform="rotate(-27 75.5 52.0)"/>
<ellipse cx="82.7" cy="56.7" rx="2.8" ry="2.0" fill="#9af69c" transform="rotate(-27 82.7 56.7)"/>
<ellipse cx="89.9" cy="61.4" rx="2.8" ry="2.0" fill="#9af69c" transform="rotate(-27 89.9 61.4)"/>
<ellipse cx="97.1" cy="66.1" rx="2.8" ry="2.0" fill="#8cf4a2" transform="rotate(-27 97.1 66.1)"/>
<ellipse cx="104.3" cy="70.8" rx="2.8" ry="2.0" fill="#86f0a6" transform="rotate(-27 104.3 70.8)"/>
<ellipse cx="4.0" cy="-3.6" rx="2.8" ry="2.0" fill="#86f0a6" transform="rotate(-27 4.0 -3.6)"/>
<ellipse cx="11.2" cy="1.1" rx="2.8" ry="2.0" fill="#9af69c" transform="rotate(-27 11.2 1.1)"/>
<ellipse cx="18.4" cy="5.8" rx="2.8" ry="2.0" fill="#7ee8b0" transform="rotate(-27 18.4 5.8)"/>
<ellipse cx="25.6" cy="10.5" rx="2.8" ry="2.0" fill="#8cf4a2" transform="rotate(-27 25.6 10.5)"/>
<ellipse cx="32.8" cy="15.2" rx="2.8" ry="2.0" fill="#8cf4a2" transform="rotate(-27 32.8 15.2)"/>
<ellipse cx="40.0" cy="19.9" rx="2.8" ry="2.0" fill="#84eeb4" transform="rotate(-27 40.0 19.9)"/>
<ellipse cx="47.2" cy="24.6" rx="2.8" ry="2.0" fill="#8cf4a2" transform="rotate(-27 47.2 24.6)"/>
<ellipse cx="54.4" cy="29.3" rx="2.8" ry="2.0" fill="#9af69c" transform="rotate(-27 54.4 29.3)"/>
<ellipse cx="61.6" cy="34.0" rx="2.8" ry="2.0" fill="#86f0a6" transform="rotate(-27 61.6 34.0)"/>
<ellipse cx="68.8" cy="38.7" rx="2.8" ry="2.0" fill="#8cf4a2" transform="rotate(-27 68.8 38.7)"/>
<ellipse cx="76.0" cy="43.4" rx="2.8" ry="2.0" fill="#9af69c" transform="rotate(-27 76.0 43.4)"/>
<ellipse cx="83.2" cy="48.1" rx="2.8" ry="2.0" fill="#7ee8b0" transform="rotate(-27 83.2 48.1)"/>
<ellipse cx="90.4" cy="52.8" rx="2.8" ry="2.0" fill="#8cf4a2" transform="rotate(-27 90.4 52.8)"/>
<ellipse cx="97.6" cy="57.5" rx="2.8" ry="2.0" fill="#86f0a6" transform="rotate(-27 97.6 57.5)"/>
<ellipse cx="104.8" cy="62.2" rx="2.8" ry="2.0" fill="#9af69c" transform="rotate(-27 104.8 62.2)"/>
<ellipse cx="18.8" cy="-2.8" rx="2.8" ry="2.0" fill="#7ee8b0" transform="rotate(-27 18.8 -2.8)"/>
<ellipse cx="26.0" cy="1.9" rx="2.8" ry="2.0" fill="#8cf4a2" transform="rotate(-27 26.0 1.9)"/>
<ellipse cx="33.2" cy="6.6" rx="2.8" ry="2.0" fill="#9af69c" transform="rotate(-27 33.2 6.6)"/>
<ellipse cx="40.4" cy="11.3" rx="2.8" ry="2.0" fill="#84eeb4" transform="rotate(-27 40.4 11.3)"/>
<ellipse cx="47.6" cy="16.0" rx="2.8" ry="2.0" fill="#8cf4a2" transform="rotate(-27 47.6 16.0)"/>
<ellipse cx="54.8" cy="20.7" rx="2.8" ry="2.0" fill="#84eeb4" transform="rotate(-27 54.8 20.7)"/>
<ellipse cx="62.0" cy="25.4" rx="2.8" ry="2.0" fill="#9af69c" transform="rotate(-27 62.0 25.4)"/>
<ellipse cx="69.2" cy="30.1" rx="2.8" ry="2.0" fill="#9af69c" transform="rotate(-27 69.2 30.1)"/>
<ellipse cx="76.4" cy="34.8" rx="2.8" ry="2.0" fill="#7ee8b0" transform="rotate(-27 76.4 34.8)"/>
<ellipse cx="83.6" cy="39.5" rx="2.8" ry="2.0" fill="#9af69c" transform="rotate(-27 83.6 39.5)"/>
<ellipse cx="90.8" cy="44.2" rx="2.8" ry="2.0" fill="#7ee8b0" transform="rotate(-27 90.8 44.2)"/>
<ellipse cx="98.0" cy="48.9" rx="2.8" ry="2.0" fill="#7ee8b0" transform="rotate(-27 98.0 48.9)"/>
<ellipse cx="105.2" cy="53.6" rx="2.8" ry="2.0" fill="#9af69c" transform="rotate(-27 105.2 53.6)"/>
<ellipse cx="33.7" cy="-2.0" rx="2.8" ry="2.0" fill="#9af69c" transform="rotate(-27 33.7 -2.0)"/>
<ellipse cx="40.9" cy="2.7" rx="2.8" ry="2.0" fill="#8cf4a2" transform="rotate(-27 40.9 2.7)"/>
<ellipse cx="48.1" cy="7.4" rx="2.8" ry="2.0" fill="#86f0a6" transform="rotate(-27 48.1 7.4)"/>
<ellipse cx="55.3" cy="12.1" rx="2.8" ry="2.0" fill="#9af69c" transform="rotate(-27 55.3 12.1)"/>
<ellipse cx="62.5" cy="16.8" rx="2.8" ry="2.0" fill="#84eeb4" transform="rotate(-27 62.5 16.8)"/>
<ellipse cx="69.7" cy="21.5" rx="2.8" ry="2.0" fill="#8cf4a2" transform="rotate(-27 69.7 21.5)"/>
<ellipse cx="76.9" cy="26.2" rx="2.8" ry="2.0" fill="#9af69c" transform="rotate(-27 76.9 26.2)"/>
<ellipse cx="84.1" cy="30.9" rx="2.8" ry="2.0" fill="#7ee8b0" transform="rotate(-27 84.1 30.9)"/>
<ellipse cx="91.3" cy="35.6" rx="2.8" ry="2.0" fill="#8cf4a2" transform="rotate(-27 91.3 35.6)"/>
<ellipse cx="98.5" cy="40.3" rx="2.8" ry="2.0" fill="#86f0a6" transform="rotate(-27 98.5 40.3)"/>
<ellipse cx="105.7" cy="45.0" rx="2.8" ry="2.0" fill="#9af69c" transform="rotate(-27 105.7 45.0)"/>
<ellipse cx="41.3" cy="-5.9" rx="2.8" ry="2.0" fill="#7ee8b0" transform="rotate(-27 41.3 -5.9)"/>
<ellipse cx="48.5" cy="-1.2" rx="2.8" ry="2.0" fill="#84eeb4" transform="rotate(-27 48.5 -1.2)"/>
<ellipse cx="55.7" cy="3.5" rx="2.8" ry="2.0" fill="#84eeb4" transform="rotate(-27 55.7 3.5)"/>
<ellipse cx="62.9" cy="8.2" rx="2.8" ry="2.0" fill="#84eeb4" transform="rotate(-27 62.9 8.2)"/>
<ellipse cx="70.1" cy="12.9" rx="2.8" ry="2.0" fill="#7ee8b0" transform="rotate(-27 70.1 12.9)"/>
<ellipse cx="77.3" cy="17.6" rx="2.8" ry="2.0" fill="#86f0a6" transform="rotate(-27 77.3 17.6)"/>
<ellipse cx="84.5" cy="22.3" rx="2.8" ry="2.0" fill="#7ee8b0" transform="rotate(-27 84.5 22.3)"/>
<ellipse cx="91.7" cy="27.0" rx="2.8" ry="2.0" fill="#84eeb4" transform="rotate(-27 91.7 27.0)"/>
<ellipse cx="98.9" cy="31.7" rx="2.8" ry="2.0" fill="#86f0a6" transform="rotate(-27 98.9 31.7)"/>
<ellipse cx="106.1" cy="36.4" rx="2.8" ry="2.0" fill="#7ee8b0" transform="rotate(-27 106.1 36.4)"/>
<ellipse cx="56.2" cy="-5.1" rx="2.8" ry="2.0" fill="#7ee8b0" transform="rotate(-27 56.2 -5.1)"/>
<ellipse cx="63.4" cy="-0.4" rx="2.8" ry="2.0" fill="#84eeb4" transform="rotate(-27 63.4 -0.4)"/>
<ellipse cx="70.6" cy="4.3" rx="2.8" ry="2.0" fill="#7ee8b0" transform="rotate(-27 70.6 4.3)"/>
<ellipse cx="77.8" cy="9.0" rx="2.8" ry="2.0" fill="#9af69c" transform="rotate(-27 77.8 9.0)"/>
<ellipse cx="85.0" cy="13.7" rx="2.8" ry="2.0" fill="#7ee8b0" transform="rotate(-27 85.0 13.7)"/>
<ellipse cx="92.2" cy="18.4" rx="2.8" ry="2.0" fill="#7ee8b0" transform="rotate(-27 92.2 18.4)"/>
<ellipse cx="99.4" cy="23.1" rx="2.8" ry="2.0" fill="#7ee8b0" transform="rotate(-27 99.4 23.1)"/>
<ellipse cx="106.6" cy="27.8" rx="2.8" ry="2.0" fill="#8cf4a2" transform="rotate(-27 106.6 27.8)"/>
<ellipse cx="71.1" cy="-4.3" rx="2.8" ry="2.0" fill="#84eeb4" transform="rotate(-27 71.1 -4.3)"/>
<ellipse cx="78.3" cy="0.4" rx="2.8" ry="2.0" fill="#86f0a6" transform="rotate(-27 78.3 0.4)"/>
<ellipse cx="85.5" cy="5.1" rx="2.8" ry="2.0" fill="#9af69c" transform="rotate(-27 85.5 5.1)"/>
<ellipse cx="92.7" cy="9.8" rx="2.8" ry="2.0" fill="#84eeb4" transform="rotate(-27 92.7 9.8)"/>
<ellipse cx="99.9" cy="14.5" rx="2.8" ry="2.0" fill="#7ee8b0" transform="rotate(-27 99.9 14.5)"/>
<ellipse cx="107.1" cy="19.2" rx="2.8" ry="2.0" fill="#7ee8b0" transform="rotate(-27 107.1 19.2)"/>
<ellipse cx="85.9" cy="-3.5" rx="2.8" ry="2.0" fill="#7ee8b0" transform="rotate(-27 85.9 -3.5)"/>
<ellipse cx="93.1" cy="1.2" rx="2.8" ry="2.0" fill="#9af69c" transform="rotate(-27 93.1 1.2)"/>
<ellipse cx="100.3" cy="5.9" rx="2.8" ry="2.0" fill="#7ee8b0" transform="rotate(-27 100.3 5.9)"/>
<ellipse cx="107.5" cy="10.6" rx="2.8" ry="2.0" fill="#84eeb4" transform="rotate(-27 107.5 10.6)"/>
<ellipse cx="100.8" cy="-2.7" rx="2.8" ry="2.0" fill="#7ee8b0" transform="rotate(-27 100.8 -2.7)"/>
<ellipse cx="108.0" cy="2.0" rx="2.8" ry="2.0" fill="#7ee8b0" transform="rotate(-27 108.0 2.0)"/>
</g>
</svg>
<text x="850.4" y="453.0" font-size="20.6" font-weight="bold" fill="#fff">2 nm</text>
<rect x="848.6" y="458.6" width="51.7" height="2.6" fill="#fff"/>
<polyline points="115.1,500.8 119.4,502.7 123.8,502.4 128.1,501.1 132.4,501.7 136.7,501.5 141.1,502.0 145.4,502.4 149.7,500.5 154.0,500.3 158.3,502.4 162.7,501.4 167.0,502.2 171.5,501.8 173.8,507.0 176.0,512.1 177.8,516.6 179.5,521.7 183.0,524.6 187.4,523.3 191.9,523.4 196.3,524.3 200.8,525.1 205.2,524.2 209.7,524.0 214.1,524.5 218.5,523.8 223.0,524.2 227.4,524.7 231.9,524.9 236.3,524.5 240.8,524.5 245.2,525.2" fill="none" stroke="#fff" stroke-linejoin="round" stroke-linecap="round" stroke-width="1.7"/>
<line x1="115" y1="502.6" x2="183" y2="502.6" stroke="#e8d8c0" stroke-width="0.7" opacity="0.8"/>
<line x1="171.5" y1="525.3" x2="181" y2="525.3" stroke="#e8d8c0" stroke-width="0.7" opacity="0.8"/>
<line x1="115.1" y1="539.6" x2="243.6" y2="539.6" stroke="#ffe800" stroke-width="2.5" stroke-dasharray="18.2 6.9"/>
<text x="101.1" y="525.9" font-size="20.4" font-weight="bold" fill="#fff">2.0 nm</text>
<text x="33.4" y="613.6" font-size="20.5" font-weight="bold" fill="#fff">Fresh</text>
<text x="216.4" y="613.6" font-size="20.4" font-weight="bold" fill="#fff">2 µm</text>
<rect x="212.2" y="623.3" width="57.7" height="2.8" fill="#fff"/>
<polyline points="418.4,515.0 419.6,517.1 420.8,517.1 422.0,518.7 423.8,521.0 425.6,520.6 427.5,520.3 429.3,519.1 431.1,520.0 432.9,519.9 434.7,519.7 436.5,518.3 438.4,519.1 440.2,518.9 442.0,519.9 443.8,520.7 445.6,520.5 447.5,519.1 449.3,518.7 451.1,518.0 452.9,517.1 454.7,517.0 456.5,518.4 458.4,517.9 460.2,518.0 462.0,519.7 463.8,518.3 465.6,518.4 467.5,517.2 469.3,516.4 471.1,517.3 472.9,516.6 474.7,517.8 476.5,519.5 478.4,518.3 480.2,516.4 482.0,518.9 485.5,517.1 485.8,519.0 486.1,520.9 486.4,522.7 486.6,524.5 486.9,526.2 487.2,528.3 487.5,530.2 487.8,531.9 488.2,534.1 488.5,536.1 488.8,538.0 489.2,540.0 489.5,542.0 492.0,544.3 493.8,543.4 495.6,543.9 497.4,542.8 499.2,543.8 501.0,543.7 502.8,542.7 504.6,542.8 506.4,543.4 508.3,542.9 510.1,542.2 511.9,541.5 513.7,541.6 515.5,542.3 517.3,541.0 519.1,542.6 520.9,541.5" fill="none" stroke="#fff" stroke-linejoin="round" stroke-linecap="round" stroke-width="1.5"/>
<line x1="416" y1="516.9" x2="497" y2="516.9" stroke="#e8d8c0" stroke-width="0.7" opacity="0.8"/>
<line x1="469" y1="543.0" x2="520" y2="543.0" stroke="#e8d8c0" stroke-width="0.7" opacity="0.8"/>
<line x1="421.8" y1="553.7" x2="520.9" y2="553.7" stroke="#ffe800" stroke-width="2.5" stroke-dasharray="17 7.6"/>
<text x="416.1" y="540.2" font-size="20.4" font-weight="bold" fill="#fff">1.9 nm</text>
<text x="342.7" y="618.6" font-size="20.4" font-weight="bold" fill="#fff">1 month</text>
<text x="529.1" y="614.6" font-size="20.5" font-weight="bold" fill="#fff">2 µm</text>
<rect x="521.9" y="624.4" width="64.0" height="2.7" fill="#fff"/>
<polyline points="754.8,507.5 756.5,509.0 758.3,509.2 760.0,511.0 761.8,511.0 763.7,508.5 765.5,508.2 767.3,511.8 769.2,509.1 771.0,509.0 772.8,512.4 774.7,509.9 776.5,511.5 778.3,509.8 780.2,510.5 782.0,508.2 783.8,510.4 785.7,511.5 787.5,509.8 789.3,510.8 791.2,510.4 793.0,507.4 796.3,508.6 796.4,510.5 796.5,512.3 796.6,514.1 796.6,516.4 796.7,518.1 796.8,520.2 796.9,522.2 797.0,524.1 797.0,526.3 797.1,528.0 797.2,530.3 797.3,532.0 797.3,534.5 797.4,536.5 800.0,534.4 801.5,533.4 803.0,532.6 804.5,534.5 806.0,531.2 807.3,533.5 808.7,533.7 810.0,536.0 811.2,533.9 812.4,532.3 813.5,531.3 814.7,529.5" fill="none" stroke="#fff" stroke-linejoin="round" stroke-linecap="round" stroke-width="1.3"/>
<line x1="756.9" y1="548.3" x2="811.2" y2="548.3" stroke="#ffe800" stroke-width="2.5" stroke-dasharray="18 6.9"/>
<text x="723.4" y="539.6" font-size="20.4" font-weight="bold" fill="#fff">1.9 nm</text>
<text x="654.7" y="620.3" font-size="20.7" font-weight="bold" fill="#fff">4 months</text>
<text x="840.2" y="615.0" font-size="20.5" font-weight="bold" fill="#fff">2 µm</text>
<rect x="837.2" y="624.7" width="58.8" height="2.8" fill="#fff"/>
<!-- colorbar -->
<rect x="707" y="643.4" width="142.7" height="19.9" fill="url(#cbar)" stroke="#777" stroke-width="0.9"/>
<text x="639.80" y="660.60" font-size="20.4" fill="#000" text-anchor="start" >-10 nm</text>
<text x="853.00" y="660.30" font-size="20" fill="#000" text-anchor="start" >10 nm</text>
<!-- chart g -->
<rect x="82.1" y="705.7" width="336.6" height="246.29999999999995" fill="#fff" stroke="#000" stroke-width="2.9"/>
<line x1="82.1" x2="86.69999999999999" y1="869.90" y2="869.90" stroke="#000" stroke-width="2.2"/>
<line x1="82.1" x2="86.69999999999999" y1="787.80" y2="787.80" stroke="#000" stroke-width="2.2"/>
<line x1="82.1" x2="85.3" y1="910.95" y2="910.95" stroke="#000" stroke-width="1.6"/>
<line x1="82.1" x2="85.3" y1="828.85" y2="828.85" stroke="#000" stroke-width="1.6"/>
<line x1="82.1" x2="85.3" y1="746.75" y2="746.75" stroke="#000" stroke-width="1.6"/>
<text transform="translate(75.20,957.30) scale(1.170,1)" font-size="16.2" fill="#000" text-anchor="end" >0.0</text>
<text transform="translate(75.20,875.20) scale(1.170,1)" font-size="16.2" fill="#000" text-anchor="end" >0.1</text>
<text transform="translate(75.20,793.10) scale(1.170,1)" font-size="16.2" fill="#000" text-anchor="end" >0.2</text>
<text transform="translate(75.20,711.00) scale(1.170,1)" font-size="16.2" fill="#000" text-anchor="end" >0.3</text>
<line x1="137.9" x2="137.9" y1="952.0" y2="946.8" stroke="#000" stroke-width="2.2"/>
<line x1="250.3" x2="250.3" y1="952.0" y2="946.8" stroke="#000" stroke-width="2.2"/>
<line x1="362.3" x2="362.3" y1="952.0" y2="946.8" stroke="#000" stroke-width="2.2"/>
<text x="111.60" y="979.90" font-size="20" fill="#000" text-anchor="start" >Fresh</text>
<text x="206.20" y="981.20" font-size="20.2" fill="#000" text-anchor="start" >1 month</text>
<text x="321.10" y="983.70" font-size="20.7" fill="#000" text-anchor="start" >4 months</text>
<text transform="translate(29.8,864.2) rotate(-90) scale(1,1.06)" font-size="20.1" fill="#000">Ra (nm)</text>
<rect x="134.20" y="782.40" width="7.2" height="7.2" fill="#000"/>
<rect x="134.20" y="825.20" width="7.2" height="7.2" fill="#000"/>
<rect x="134.20" y="828.20" width="7.2" height="7.2" fill="#000"/>
<rect x="134.20" y="854.00" width="7.2" height="7.2" fill="#000"/>
<rect x="246.50" y="754.80" width="7.2" height="7.2" fill="#000"/>
<rect x="246.50" y="769.20" width="7.2" height="7.2" fill="#000"/>
<rect x="246.50" y="774.70" width="7.2" height="7.2" fill="#000"/>
<rect x="358.70" y="760.60" width="7.2" height="7.2" fill="#000"/>
<rect x="358.70" y="764.60" width="7.2" height="7.2" fill="#000"/>
<rect x="358.70" y="774.00" width="7.2" height="7.2" fill="#000"/>
<rect x="358.6" y="771.9" width="7.4" height="0.7" fill="#ddd"/>
<rect x="346.6" y="1007" width="1.6" height="1" fill="#bbb"/><rect x="430.5" y="1007" width="1.6" height="1" fill="#ccc"/>
<!-- chart h -->
<rect x="523.5" y="705.5" width="384.6" height="234.20000000000005" fill="#fff" stroke="#000" stroke-width="2.5"/>
<rect x="816.4" y="702.5" width="6.6" height="6" fill="#fff"/>
<line x1="812.3" y1="710.4" x2="819.5" y2="700.6" stroke="#000" stroke-width="1.9"/>
<line x1="819.6999999999999" y1="710.4" x2="826.9" y2="700.6" stroke="#000" stroke-width="1.9"/>
<rect x="816.4" y="936.7" width="6.6" height="6" fill="#fff"/>
<line x1="812.3" y1="944.6" x2="819.5" y2="934.8000000000001" stroke="#000" stroke-width="1.9"/>
<line x1="819.6999999999999" y1="944.6" x2="826.9" y2="934.8000000000001" stroke="#000" stroke-width="1.9"/>
<line x1="585.4" x2="585.4" y1="939.7" y2="934.5" stroke="#000" stroke-width="1.9"/>
<line x1="647.7" x2="647.7" y1="939.7" y2="934.5" stroke="#000" stroke-width="1.9"/>
<line x1="709.8" x2="709.8" y1="939.7" y2="934.5" stroke="#000" stroke-width="1.9"/>
<line x1="773.2" x2="773.2" y1="939.7" y2="934.5" stroke="#000" stroke-width="1.9"/>
<line x1="847.2" x2="847.2" y1="939.7" y2="934.5" stroke="#000" stroke-width="1.9"/>
<line x1="554.1" x2="554.1" y1="939.7" y2="936.5" stroke="#000" stroke-width="1.5"/>
<line x1="618.3" x2="618.3" y1="939.7" y2="936.5" stroke="#000" stroke-width="1.5"/>
<line x1="679.5" x2="679.5" y1="939.7" y2="936.5" stroke="#000" stroke-width="1.5"/>
<line x1="741.4" x2="741.4" y1="939.7" y2="936.5" stroke="#000" stroke-width="1.5"/>
<line x1="804.8" x2="804.8" y1="939.7" y2="936.5" stroke="#000" stroke-width="1.5"/>
<line x1="893.5" x2="893.5" y1="939.7" y2="936.5" stroke="#000" stroke-width="1.5"/>
<text x="523.80" y="957.00" font-size="14" fill="#000" text-anchor="middle" >100</text>
<text x="586.40" y="957.00" font-size="14" fill="#000" text-anchor="middle" >150</text>
<text x="647.70" y="957.00" font-size="14" fill="#000" text-anchor="middle" >200</text>
<text x="709.50" y="957.00" font-size="14" fill="#000" text-anchor="middle" >250</text>
<text x="772.70" y="957.00" font-size="14" fill="#000" text-anchor="middle" >300</text>
<text x="847.00" y="957.00" font-size="14" fill="#000" text-anchor="middle" >600</text>
<text x="616.4" y="978.0" font-size="20.7" fill="#000">Raman shift (cm<tspan font-size="13.5" dy="-7.2">-1</tspan><tspan dy="7.2">)</tspan></text>
<text transform="translate(504.2,918.6) rotate(-90)" font-size="20.7" fill="#000">Normalized intensity</text>
<g clip-path="url(#clipH)"><polyline points="523.4,913.4 523.8,912.3 524.2,917.6 524.7,908.9 525.1,911.9 525.5,913.9 525.9,913.3 526.3,919.4 526.8,928.0 527.2,910.8 527.6,918.3 528.0,916.3 528.4,917.5 528.9,908.3 529.3,920.7 529.7,915.7 530.1,922.1 530.5,914.8 531.0,913.3 531.4,913.8 531.8,919.8 532.2,907.8 532.6,912.7 533.1,906.3 533.5,911.3 533.9,911.3 534.3,917.2 534.7,921.5 535.2,914.0 535.6,914.2 536.0,909.5 536.4,910.4 536.8,917.2 537.3,915.5 537.7,908.4 538.1,913.2 538.5,913.3 538.9,917.8 539.4,894.4 539.8,912.8 540.2,912.7 540.6,913.6 541.0,912.9 541.5,919.7 541.9,917.8 542.3,906.8 542.7,910.4 543.1,923.6 543.6,918.9 544.0,907.8 544.4,914.0 544.8,914.6 545.2,921.1 545.7,915.3 546.1,914.3 546.5,906.7 546.9,921.9 547.3,904.5 547.8,919.2 548.2,916.3 548.6,909.8 549.0,908.0 549.4,918.5 549.9,914.2 550.3,920.0 550.7,910.6 551.1,916.8 551.5,920.1 552.0,914.4 552.4,915.3 552.8,918.4 553.2,908.2 553.6,920.9 554.1,921.9 554.5,906.4 554.9,899.6 555.3,907.4 555.7,901.9 556.2,897.6 556.6,906.4 557.0,905.1 557.4,891.7 557.8,899.9 558.3,909.8 558.7,913.1 559.1,915.7 559.5,916.1 559.9,919.9 560.4,912.1 560.8,918.8 561.2,918.1 561.6,919.0 562.0,913.8 562.5,911.4 562.9,909.7 563.3,913.2 563.7,910.1 564.1,912.7 564.6,915.5 565.0,908.9 565.4,909.9 565.8,908.2 566.2,916.0 566.7,907.1 567.1,921.6 567.5,911.9 567.9,919.9 568.3,916.9 568.8,912.4 569.2,916.6 569.6,915.3 570.0,920.0 570.4,915.9 570.9,916.3 571.3,914.8 571.7,917.0 572.1,923.4 572.5,908.8 573.0,915.2 573.4,913.1 573.8,914.3 574.2,919.4 574.6,919.9 575.1,922.2 575.5,913.1 575.9,917.8 576.3,913.1 576.7,904.9 577.2,914.4 577.6,922.3 578.0,904.6 578.4,919.9 578.8,913.6 579.3,912.9 579.7,901.8 580.1,910.8 580.5,915.3 580.9,906.2 581.4,920.9 581.8,914.8 582.2,917.7 582.6,912.7 583.0,920.7 583.5,913.7 583.9,908.3 584.3,915.9 584.7,919.8 585.1,919.5 585.6,906.0 586.0,910.9 586.4,917.5 586.8,917.1 587.2,928.3 587.7,920.8 588.1,915.5 588.5,910.9 588.9,903.1 589.3,906.3 589.8,909.2 590.2,911.8 590.6,923.6 591.0,919.3 591.4,914.6 591.9,909.4 592.3,909.2 592.7,915.7 593.1,909.3 593.5,921.6 594.0,912.2 594.4,915.8 594.8,908.8 595.2,915.6 595.6,915.0 596.1,915.0 596.5,912.2 596.9,910.3 597.3,909.3 597.7,919.7 598.2,913.2 598.6,920.0 599.0,907.4 599.4,918.3 599.8,915.8 600.3,915.2 600.7,913.4 601.1,917.6 601.5,914.9 601.9,904.7 602.4,923.8 602.8,916.9 603.2,914.6 603.6,920.1 604.0,909.6 604.5,909.3 604.9,905.6 605.3,911.7 605.7,911.3 606.1,919.7 606.6,903.8 607.0,910.2 607.4,906.6 607.8,925.0 608.2,916.4 608.7,921.8 609.1,920.6 609.5,920.3 609.9,906.9 610.3,907.4 610.8,919.2 611.2,908.9 611.6,919.8 612.0,913.7 612.4,910.9 612.9,922.4 613.3,921.3 613.7,908.1 614.1,906.5 614.5,914.8 615.0,911.6 615.4,919.9 615.8,922.3 616.2,912.3 616.6,927.1 617.1,912.3 617.5,905.7 617.9,909.5 618.3,898.8 618.7,909.6 619.2,918.3 619.6,918.1 620.0,903.9 620.4,910.0 620.8,912.0 621.3,903.5 621.7,912.4 622.1,910.3 622.5,908.0 622.9,896.6 623.4,908.3 623.8,903.9 624.2,884.5 624.6,893.9 625.0,901.9 625.5,879.5 625.9,878.3 626.3,876.2 626.7,862.5 627.1,860.7 627.6,876.9 628.0,878.2 628.4,878.7 628.8,887.0 629.2,883.8 629.7,886.2 630.1,884.5 630.5,884.1 630.9,880.3 631.3,880.0 631.8,880.1 632.2,862.4 632.6,881.3 633.0,887.4 633.4,879.4 633.9,892.9 634.3,891.2 634.7,901.6 635.1,908.8 635.5,910.6 636.0,903.2 636.4,902.7 636.8,917.6 637.2,918.1 637.6,907.6 638.1,920.5 638.5,918.4 638.9,914.2 639.3,915.5 639.7,911.7 640.2,924.1 640.6,912.0 641.0,919.6 641.4,919.3 641.8,913.8 642.3,916.2 642.7,922.7 643.1,922.5 643.5,915.0 643.9,918.8 644.4,923.3 644.8,923.1 645.2,922.9 645.6,925.9 646.0,930.7 646.5,913.6 646.9,926.3 647.3,919.6 647.7,917.0 648.1,932.5 648.6,905.7 649.0,932.8 649.4,920.9 649.8,920.1 650.2,917.1 650.7,923.0 651.1,912.0 651.5,916.1 651.9,925.3 652.3,925.3 652.8,920.5 653.2,923.8 653.6,919.9 654.0,923.4 654.4,921.8 654.9,918.0 655.3,909.5 655.7,922.5 656.1,919.8 656.5,922.2 657.0,918.5 657.4,920.2 657.8,916.6 658.2,915.2 658.6,919.2 659.1,922.4 659.5,923.7 659.9,923.5 660.3,925.1 660.7,915.1 661.2,919.7 661.6,925.3 662.0,919.3 662.4,922.0 662.8,919.0 663.3,931.6 663.7,921.9 664.1,919.1 664.5,915.4 664.9,921.4 665.4,925.5 665.8,918.7 666.2,924.3 666.6,926.1 667.0,914.4 667.5,921.9 667.9,924.2 668.3,919.9 668.7,923.7 669.1,918.5 669.6,928.6 670.0,913.1 670.4,927.6 670.8,929.7 671.2,922.5 671.7,928.3 672.1,922.5 672.5,929.0 672.9,919.9 673.3,915.3 673.8,920.9 674.2,909.1 674.6,908.0 675.0,918.2 675.4,916.6 675.9,909.0 676.3,917.3 676.7,907.0 677.1,915.8 677.5,912.5 678.0,907.5 678.4,896.6 678.8,912.2 679.2,903.9 679.6,900.4 680.1,906.2 680.5,903.5 680.9,906.0 681.3,914.0 681.7,905.5 682.2,916.1 682.6,902.3 683.0,906.3 683.4,908.7 683.8,903.8 684.3,904.4 684.7,916.3 685.1,901.8 685.5,907.0 685.9,911.5 686.4,910.5 686.8,910.7 687.2,907.6 687.6,908.8 688.0,906.7 688.5,904.8 688.9,909.1 689.3,907.3 689.7,907.4 690.1,909.4 690.6,906.5 691.0,904.8 691.4,908.7 691.8,901.7 692.2,896.2 692.7,910.1 693.1,902.7 693.5,902.0 693.9,903.0 694.3,903.0 694.8,910.4 695.2,910.8 695.6,911.1 696.0,914.4 696.4,905.4 696.9,905.5 697.3,904.4 697.7,908.1 698.1,903.2 698.5,900.6 699.0,912.2 699.4,912.5 699.8,912.2 700.2,897.2 700.6,898.7 701.1,908.8 701.5,902.4 701.9,908.1 702.3,916.4 702.7,904.9 703.2,908.2 703.6,909.7 704.0,911.1 704.4,903.3 704.8,895.3 705.3,902.4 705.7,910.1 706.1,908.2 706.5,902.1 706.9,900.2 707.4,903.1 707.8,906.0 708.2,890.8 708.6,899.3 709.0,910.5 709.5,902.0 709.9,901.3 710.3,910.6 710.7,914.5 711.1,899.7 711.6,915.9 712.0,896.1 712.4,903.9 712.8,909.4 713.2,909.7 713.7,921.4 714.1,905.1 714.5,902.3 714.9,905.0 715.3,903.8 715.8,913.9 716.2,907.0 716.6,905.6 717.0,910.9 717.4,906.9 717.9,904.0 718.3,899.3 718.7,911.2 719.1,904.1 719.5,901.8 720.0,903.3 720.4,902.2 720.8,917.7 721.2,909.2 721.6,908.5 722.1,904.0 722.5,900.9 722.9,905.9 723.3,906.1 723.7,896.6 724.2,915.9 724.6,904.1 725.0,904.6 725.4,900.4 725.8,913.4 726.3,906.4 726.7,911.1 727.1,904.6 727.5,898.0 727.9,902.0 728.4,909.0 728.8,903.8 729.2,903.1 729.6,907.9 730.0,897.6 730.5,906.4 730.9,900.5 731.3,905.9 731.7,903.7 732.1,904.9 732.6,899.3 733.0,896.7 733.4,904.5 733.8,905.3 734.2,901.6 734.7,901.2 735.1,900.6 735.5,909.6 735.9,888.7 736.3,894.0 736.8,892.5 737.2,901.9 737.6,899.9 738.0,904.6 738.4,899.7 738.9,894.8 739.3,901.7 739.7,897.5 740.1,900.5 740.5,906.3 741.0,894.1 741.4,889.9 741.8,907.6 742.2,902.5 742.6,906.3 743.1,902.1 743.5,898.9 743.9,907.7 744.3,901.7 744.7,898.3 745.2,906.3 745.6,906.7 746.0,897.4 746.4,909.0 746.8,890.5 747.3,895.8 747.7,902.6 748.1,896.3 748.5,918.3 748.9,893.9 749.4,902.4 749.8,900.9 750.2,903.8 750.6,899.6 751.0,901.3 751.5,900.3 751.9,905.1 752.3,897.6 752.7,895.5 753.1,896.5 753.6,904.4 754.0,887.6 754.4,897.5 754.8,892.1 755.2,900.9 755.7,902.9 756.1,901.6 756.5,900.6 756.9,902.7 757.3,895.4 757.8,902.7 758.2,902.4 758.6,899.3 759.0,898.9 759.4,897.8 759.9,903.1 760.3,904.3 760.7,896.8 761.1,910.3 761.5,901.5 762.0,894.5 762.4,898.3 762.8,884.7 763.2,910.1 763.6,893.3 764.1,890.1 764.5,898.6 764.9,895.2 765.3,895.4 765.7,891.4 766.2,898.7 766.6,886.9 767.0,891.2 767.4,892.1 767.8,895.1 768.3,893.1 768.7,895.1 769.1,891.7 769.5,903.7 769.9,892.6 770.4,889.9 770.8,885.3 771.2,892.1 771.6,892.0 772.0,885.9 772.5,882.1 772.9,878.2 773.3,879.6 773.7,882.7 774.1,879.2 774.6,878.0 775.0,878.1 775.4,873.3 775.8,872.0 776.2,876.0 776.7,871.3 777.1,874.2 777.5,874.7 777.9,873.8 778.3,883.7 778.8,877.4 779.2,876.3 779.6,873.2 780.0,870.7 780.4,877.7 780.9,865.6 781.3,875.5 781.7,885.8 782.1,870.8 782.5,881.3 783.0,898.0 783.4,880.5 783.8,891.0 784.2,886.8 784.6,890.9 785.1,895.0 785.5,882.3 785.9,893.7 786.3,890.9 786.7,894.1 787.2,901.7 787.6,897.6 788.0,894.3 788.4,899.9 788.8,894.2 789.3,897.6 789.7,898.6 790.1,893.3 790.5,903.0 790.9,895.6 791.4,903.3 791.8,900.0 792.2,901.5 792.6,900.4 793.0,912.9 793.5,902.1 793.9,907.5 794.3,897.0 794.7,901.2 795.1,914.1 795.6,913.4 796.0,903.5 796.4,908.0 796.8,909.7 797.2,901.6 797.7,906.7 798.1,902.1 798.5,909.9 798.9,907.0 799.3,918.7 799.8,910.3 800.2,914.9 800.6,917.5 801.0,918.7 801.4,908.6 801.9,912.2 802.3,913.7 802.7,910.9 803.1,908.2 803.5,904.7 804.0,911.5 804.4,909.5 804.8,914.7 805.2,907.1 805.6,919.4 806.1,895.2 806.5,919.0 806.9,921.5 807.3,920.4 807.7,920.0 808.2,918.2 808.6,915.6 809.0,911.1 809.4,915.7 809.8,914.1 810.3,924.6 810.7,917.4 811.1,916.9 811.5,926.0 811.9,919.3 812.4,925.9 812.8,922.1 813.2,919.3 813.6,930.2 814.0,925.1 814.5,917.2 814.9,919.0 815.3,921.2" fill="none" stroke="#505050" stroke-width="1.55" stroke-linejoin="round"/>
<polyline points="823.3,893.4 823.7,907.6 824.1,888.7 824.6,901.7 825.0,896.4 825.4,906.6 825.8,900.3 826.2,893.8 826.7,898.7 827.1,903.4 827.5,900.1 827.9,897.4 828.3,905.9 828.8,901.9 829.2,898.3 829.6,905.8 830.0,910.9 830.4,908.9 830.9,898.6 831.3,891.2 831.7,896.9 832.1,913.5 832.5,892.4 833.0,911.2 833.4,913.4 833.8,904.6 834.2,901.0 834.6,905.2 835.1,904.8 835.5,909.3 835.9,907.1 836.3,912.0 836.7,907.1 837.2,910.4 837.6,901.7 838.0,915.7 838.4,910.8 838.8,908.1 839.3,904.7 839.7,910.7 840.1,908.8 840.5,910.6 840.9,909.1 841.4,913.6 841.8,909.7 842.2,902.1 842.6,916.1 843.0,919.1 843.5,917.9 843.9,918.6 844.3,909.2 844.7,912.8 845.1,910.6 845.6,911.0 846.0,909.6 846.4,918.0 846.8,916.8 847.2,908.2 847.7,909.9 848.1,904.8 848.5,905.3 848.9,913.1 849.3,906.3 849.8,913.6 850.2,901.8 850.6,901.1 851.0,906.6 851.4,902.3 851.9,902.6 852.3,896.8 852.7,900.5 853.1,904.3 853.5,901.9 854.0,899.6 854.4,891.3 854.8,888.5 855.2,896.4 855.6,895.3 856.1,899.3 856.5,908.4 856.9,905.3 857.3,900.7 857.7,905.5 858.2,906.7 858.6,906.3 859.0,902.3 859.4,903.6 859.8,897.9 860.3,903.4 860.7,896.7 861.1,899.8 861.5,896.9 861.9,900.9 862.4,906.0 862.8,900.1 863.2,905.5 863.6,904.7 864.0,895.1 864.5,902.2 864.9,902.0 865.3,895.6 865.7,892.4 866.1,880.3 866.6,886.8 867.0,884.9 867.4,887.0 867.8,881.0 868.2,881.3 868.7,884.4 869.1,878.2 869.5,871.4 869.9,866.2 870.3,864.8 870.8,868.3 871.2,873.9 871.6,876.7 872.0,869.6 872.4,874.3 872.9,879.0 873.3,878.4 873.7,892.3 874.1,888.3 874.5,881.7 875.0,894.7 875.4,892.4 875.8,894.9 876.2,905.3 876.6,896.2 877.1,898.9 877.5,913.6 877.9,902.2 878.3,910.4 878.7,905.2 879.2,904.4 879.6,911.6 880.0,907.4 880.4,903.0 880.8,904.7 881.3,904.4 881.7,923.8 882.1,915.5 882.5,907.7 882.9,912.0 883.4,910.5 883.8,916.4 884.2,900.5 884.6,917.4 885.0,910.4 885.5,911.3 885.9,931.9 886.3,921.9 886.7,904.9 887.1,913.9 887.6,912.7 888.0,908.6 888.4,912.9 888.8,917.7 889.2,910.7 889.7,909.8 890.1,923.4 890.5,922.0 890.9,922.4 891.3,923.1 891.8,912.6 892.2,926.8 892.6,921.5 893.0,916.8 893.4,922.6 893.9,919.7 894.3,916.4 894.7,922.1 895.1,915.7 895.5,920.5 896.0,923.0 896.4,933.5 896.8,921.8 897.2,929.5 897.6,928.3 898.1,927.5 898.5,918.7 898.9,922.0 899.3,923.0 899.7,928.4 900.2,925.4 900.6,934.5 901.0,935.3 901.4,933.2 901.8,924.9 902.3,927.6 902.7,928.7 903.1,928.4 903.5,932.9 903.9,927.3 904.4,934.8 904.8,923.5 905.2,935.7 905.6,918.2 906.0,927.3 906.5,937.4 906.9,933.0 907.3,935.1" fill="none" stroke="#505050" stroke-width="1.55" stroke-linejoin="round"/>
<polyline points="523.4,855.1 523.8,844.9 524.2,845.6 524.7,846.6 525.1,849.6 525.5,851.5 525.9,849.7 526.3,848.6 526.8,843.3 527.2,847.7 527.6,849.2 528.0,844.3 528.4,851.3 528.9,847.8 529.3,844.3 529.7,846.4 530.1,843.5 530.5,849.2 531.0,847.1 531.4,846.8 531.8,849.2 532.2,846.5 532.6,850.8 533.1,849.0 533.5,846.9 533.9,851.0 534.3,849.1 534.7,844.5 535.2,849.4 535.6,843.6 536.0,841.7 536.4,846.4 536.8,855.5 537.3,855.7 537.7,854.0 538.1,849.2 538.5,850.9 538.9,841.3 539.4,848.4 539.8,845.5 540.2,848.8 540.6,849.5 541.0,855.3 541.5,845.3 541.9,846.5 542.3,848.0 542.7,848.2 543.1,851.5 543.6,844.7 544.0,853.7 544.4,847.0 544.8,845.2 545.2,846.7 545.7,846.3 546.1,848.5 546.5,844.0 546.9,851.2 547.3,850.5 547.8,848.8 548.2,845.4 548.6,843.6 549.0,845.4 549.4,843.2 549.9,847.1 550.3,841.5 550.7,848.2 551.1,844.4 551.5,845.6 552.0,837.0 552.4,834.8 552.8,828.3 553.2,823.4 553.6,826.3 554.1,838.8 554.5,839.2 554.9,837.4 555.3,840.4 555.7,842.5 556.2,842.6 556.6,853.4 557.0,841.6 557.4,849.7 557.8,847.2 558.3,850.1 558.7,847.3 559.1,854.0 559.5,846.6 559.9,848.6 560.4,849.8 560.8,846.5 561.2,855.9 561.6,848.1 562.0,848.1 562.5,851.6 562.9,853.0 563.3,851.5 563.7,848.5 564.1,850.0 564.6,853.0 565.0,856.3 565.4,853.1 565.8,849.5 566.2,844.2 566.7,849.9 567.1,850.8 567.5,845.2 567.9,850.0 568.3,850.1 568.8,846.7 569.2,850.3 569.6,851.2 570.0,846.6 570.4,848.9 570.9,842.1 571.3,857.9 571.7,848.2 572.1,850.7 572.5,843.4 573.0,848.4 573.4,844.1 573.8,848.4 574.2,849.9 574.6,851.1 575.1,845.6 575.5,847.5 575.9,853.6 576.3,851.1 576.7,845.7 577.2,847.0 577.6,847.1 578.0,853.9 578.4,848.8 578.8,851.0 579.3,845.0 579.7,852.4 580.1,850.1 580.5,848.2 580.9,845.0 581.4,848.5 581.8,848.7 582.2,847.9 582.6,849.0 583.0,852.1 583.5,853.0 583.9,849.4 584.3,845.2 584.7,844.5 585.1,856.5 585.6,845.6 586.0,849.6 586.4,850.1 586.8,849.3 587.2,850.9 587.7,848.4 588.1,848.7 588.5,848.1 588.9,853.9 589.3,853.2 589.8,850.8 590.2,844.7 590.6,847.0 591.0,849.2 591.4,845.6 591.9,844.4 592.3,849.3 592.7,848.2 593.1,849.6 593.5,850.5 594.0,849.4 594.4,849.4 594.8,845.7 595.2,847.6 595.6,852.9 596.1,853.6 596.5,842.6 596.9,848.8 597.3,851.7 597.7,850.6 598.2,850.3 598.6,847.4 599.0,850.3 599.4,850.5 599.8,846.7 600.3,847.0 600.7,845.3 601.1,848.6 601.5,850.9 601.9,843.4 602.4,851.2 602.8,844.6 603.2,851.6 603.6,851.7 604.0,840.1 604.5,849.0 604.9,849.1 605.3,852.0 605.7,851.1 606.1,854.6 606.6,841.1 607.0,843.8 607.4,851.3 607.8,852.3 608.2,848.0 608.7,849.3 609.1,848.7 609.5,845.5 609.9,851.7 610.3,850.7 610.8,845.1 611.2,851.5 611.6,851.7 612.0,858.4 612.4,852.1 612.9,844.4 613.3,847.9 613.7,843.1 614.1,852.4 614.5,846.7 615.0,846.8 615.4,851.3 615.8,844.6 616.2,843.9 616.6,842.7 617.1,849.4 617.5,844.3 617.9,846.9 618.3,844.3 618.7,845.2 619.2,847.9 619.6,839.6 620.0,840.5 620.4,840.7 620.8,840.6 621.3,834.9 621.7,836.2 622.1,831.8 622.5,833.2 622.9,817.7 623.4,818.4 623.8,811.4 624.2,806.5 624.6,800.1 625.0,801.3 625.5,799.7 625.9,802.7 626.3,804.0 626.7,811.8 627.1,815.3 627.6,819.9 628.0,821.2 628.4,819.6 628.8,816.4 629.2,822.2 629.7,813.3 630.1,815.2 630.5,818.7 630.9,815.2 631.3,812.8 631.8,822.2 632.2,826.6 632.6,836.7 633.0,832.2 633.4,841.9 633.9,835.9 634.3,846.0 634.7,842.0 635.1,841.8 635.5,844.7 636.0,846.5 636.4,849.0 636.8,850.3 637.2,849.1 637.6,854.3 638.1,851.6 638.5,854.4 638.9,857.6 639.3,850.9 639.7,850.9 640.2,854.0 640.6,856.4 641.0,851.4 641.4,852.8 641.8,847.9 642.3,857.7 642.7,852.5 643.1,857.4 643.5,856.0 643.9,852.6 644.4,856.2 644.8,855.7 645.2,855.5 645.6,855.7 646.0,851.1 646.5,855.0 646.9,862.4 647.3,856.2 647.7,847.7 648.1,850.8 648.6,852.4 649.0,858.9 649.4,858.9 649.8,854.1 650.2,858.4 650.7,850.4 651.1,856.9 651.5,849.5 651.9,859.5 652.3,854.6 652.8,855.7 653.2,859.2 653.6,857.4 654.0,853.0 654.4,857.1 654.9,854.1 655.3,855.9 655.7,858.6 656.1,854.4 656.5,854.9 657.0,860.0 657.4,860.7 657.8,856.1 658.2,853.6 658.6,855.2 659.1,848.2 659.5,852.1 659.9,860.6 660.3,859.5 660.7,852.5 661.2,860.0 661.6,859.6 662.0,853.2 662.4,854.9 662.8,848.7 663.3,857.2 663.7,855.0 664.1,853.5 664.5,856.8 664.9,852.3 665.4,851.1 665.8,856.5 666.2,852.5 666.6,859.6 667.0,853.8 667.5,850.5 667.9,851.4 668.3,852.8 668.7,854.9 669.1,855.3 669.6,853.8 670.0,849.9 670.4,853.7 670.8,855.6 671.2,850.7 671.7,848.9 672.1,852.3 672.5,849.5 672.9,848.3 673.3,852.5 673.8,848.1 674.2,845.0 674.6,846.2 675.0,846.2 675.4,847.8 675.9,842.3 676.3,846.2 676.7,846.0 677.1,849.4 677.5,847.5 678.0,844.0 678.4,843.6 678.8,843.4 679.2,840.5 679.6,844.3 680.1,840.4 680.5,843.2 680.9,838.0 681.3,841.7 681.7,844.6 682.2,845.7 682.6,844.8 683.0,841.7 683.4,841.7 683.8,842.6 684.3,833.1 684.7,842.1 685.1,844.9 685.5,840.2 685.9,841.1 686.4,842.4 686.8,844.2 687.2,837.7 687.6,843.1 688.0,837.5 688.5,849.0 688.9,846.3 689.3,839.7 689.7,843.1 690.1,837.9 690.6,839.6 691.0,838.0 691.4,842.6 691.8,840.9 692.2,841.0 692.7,841.2 693.1,844.5 693.5,837.4 693.9,843.5 694.3,846.2 694.8,841.4 695.2,843.2 695.6,840.0 696.0,842.8 696.4,841.4 696.9,840.3 697.3,842.0 697.7,840.5 698.1,844.4 698.5,843.9 699.0,841.6 699.4,844.2 699.8,843.0 700.2,846.0 700.6,844.2 701.1,843.9 701.5,841.8 701.9,841.6 702.3,848.5 702.7,838.6 703.2,844.7 703.6,841.0 704.0,848.0 704.4,842.4 704.8,840.7 705.3,843.3 705.7,845.7 706.1,847.7 706.5,843.9 706.9,845.1 707.4,847.6 707.8,844.6 708.2,839.7 708.6,843.5 709.0,846.5 709.5,843.9 709.9,844.3 710.3,848.2 710.7,843.4 711.1,844.6 711.6,844.7 712.0,841.6 712.4,846.0 712.8,842.2 713.2,845.5 713.7,843.2 714.1,845.6 714.5,838.3 714.9,844.9 715.3,845.4 715.8,843.3 716.2,847.4 716.6,844.5 717.0,841.5 717.4,844.3 717.9,844.8 718.3,847.7 718.7,845.3 719.1,847.7 719.5,844.9 720.0,850.8 720.4,849.0 720.8,846.5 721.2,837.9 721.6,841.3 722.1,841.2 722.5,845.2 722.9,841.4 723.3,849.5 723.7,845.7 724.2,848.2 724.6,842.7 725.0,838.9 725.4,843.5 725.8,846.9 726.3,841.4 726.7,842.8 727.1,840.7 727.5,844.1 727.9,844.7 728.4,845.4 728.8,840.2 729.2,841.8 729.6,838.2 730.0,841.1 730.5,841.9 730.9,841.1 731.3,845.0 731.7,838.0 732.1,842.9 732.6,843.5 733.0,842.0 733.4,831.2 733.8,842.7 734.2,843.8 734.7,845.1 735.1,839.8 735.5,840.2 735.9,836.8 736.3,833.2 736.8,843.5 737.2,843.5 737.6,836.3 738.0,839.9 738.4,839.2 738.9,842.7 739.3,844.9 739.7,843.0 740.1,841.8 740.5,833.9 741.0,841.2 741.4,835.3 741.8,838.2 742.2,841.8 742.6,835.4 743.1,838.8 743.5,841.2 743.9,839.4 744.3,840.4 744.7,835.4 745.2,843.5 745.6,841.2 746.0,837.0 746.4,843.1 746.8,836.4 747.3,840.6 747.7,840.4 748.1,840.9 748.5,840.9 748.9,843.3 749.4,837.3 749.8,838.7 750.2,831.7 750.6,840.8 751.0,836.7 751.5,840.2 751.9,838.3 752.3,838.2 752.7,836.5 753.1,836.9 753.6,840.6 754.0,837.3 754.4,836.5 754.8,835.7 755.2,836.4 755.7,837.3 756.1,836.3 756.5,841.0 756.9,839.9 757.3,840.7 757.8,835.3 758.2,828.2 758.6,838.8 759.0,840.4 759.4,841.4 759.9,836.8 760.3,836.8 760.7,834.0 761.1,838.9 761.5,830.9 762.0,835.1 762.4,835.6 762.8,830.9 763.2,833.5 763.6,837.4 764.1,831.6 764.5,835.6 764.9,830.2 765.3,835.5 765.7,836.2 766.2,833.2 766.6,835.5 767.0,832.1 767.4,824.4 767.8,822.6 768.3,831.3 768.7,822.0 769.1,827.2 769.5,825.1 769.9,823.4 770.4,828.4 770.8,819.8 771.2,818.8 771.6,816.6 772.0,812.2 772.5,814.7 772.9,816.7 773.3,815.0 773.7,811.5 774.1,814.5 774.6,808.6 775.0,812.7 775.4,811.9 775.8,810.7 776.2,807.7 776.7,803.8 777.1,809.9 777.5,806.1 777.9,812.0 778.3,806.8 778.8,806.1 779.2,817.4 779.6,807.4 780.0,814.8 780.4,821.4 780.9,817.4 781.3,819.5 781.7,822.4 782.1,817.0 782.5,823.2 783.0,822.4 783.4,820.6 783.8,826.2 784.2,828.5 784.6,834.5 785.1,829.5 785.5,827.9 785.9,834.8 786.3,832.6 786.7,831.5 787.2,835.8 787.6,832.0 788.0,834.2 788.4,839.6 788.8,835.7 789.3,837.1 789.7,837.3 790.1,841.7 790.5,841.0 790.9,841.9 791.4,835.7 791.8,845.6 792.2,837.5 792.6,836.0 793.0,850.6 793.5,843.2 793.9,852.1 794.3,841.0 794.7,839.9 795.1,841.6 795.6,847.5 796.0,844.7 796.4,848.9 796.8,840.4 797.2,841.6 797.7,846.0 798.1,845.0 798.5,845.9 798.9,844.9 799.3,845.7 799.8,846.8 800.2,837.1 800.6,843.0 801.0,848.1 801.4,847.1 801.9,846.6 802.3,852.7 802.7,842.9 803.1,847.8 803.5,849.9 804.0,849.5 804.4,844.3 804.8,846.0 805.2,849.0 805.6,856.9 806.1,849.7 806.5,844.3 806.9,853.8 807.3,848.7 807.7,848.9 808.2,859.2 808.6,852.3 809.0,852.5 809.4,858.6 809.8,849.6 810.3,856.4 810.7,851.7 811.1,861.6 811.5,860.1 811.9,851.4 812.4,854.2 812.8,856.5 813.2,852.1 813.6,852.9 814.0,853.6 814.5,859.7 814.9,855.0 815.3,855.0" fill="none" stroke="#ee4048" stroke-width="1.45" stroke-linejoin="round"/>
<polyline points="823.3,838.3 823.7,842.4 824.1,839.9 824.6,846.0 825.0,836.4 825.4,843.9 825.8,840.6 826.2,841.3 826.7,843.2 827.1,839.2 827.5,842.3 827.9,840.4 828.3,838.5 828.8,841.7 829.2,836.0 829.6,842.1 830.0,842.6 830.4,842.0 830.9,838.4 831.3,842.9 831.7,843.7 832.1,846.0 832.5,839.1 833.0,844.6 833.4,844.6 833.8,839.9 834.2,842.3 834.6,846.5 835.1,847.7 835.5,844.6 835.9,844.7 836.3,853.8 836.7,844.4 837.2,847.2 837.6,845.4 838.0,846.1 838.4,844.7 838.8,847.8 839.3,849.2 839.7,844.7 840.1,848.7 840.5,848.0 840.9,844.0 841.4,855.2 841.8,851.3 842.2,848.6 842.6,845.1 843.0,841.2 843.5,849.7 843.9,847.1 844.3,851.1 844.7,848.3 845.1,849.6 845.6,848.9 846.0,847.6 846.4,849.4 846.8,845.1 847.2,844.6 847.7,840.8 848.1,846.8 848.5,846.3 848.9,834.1 849.3,840.2 849.8,844.4 850.2,836.9 850.6,835.8 851.0,832.7 851.4,830.7 851.9,827.7 852.3,829.3 852.7,827.5 853.1,829.5 853.5,822.4 854.0,824.7 854.4,827.2 854.8,824.5 855.2,837.1 855.6,825.4 856.1,830.2 856.5,835.1 856.9,829.2 857.3,842.7 857.7,836.4 858.2,836.3 858.6,838.8 859.0,839.9 859.4,839.7 859.8,842.1 860.3,834.2 860.7,842.8 861.1,837.8 861.5,837.3 861.9,840.1 862.4,837.3 862.8,832.3 863.2,831.8 863.6,832.1 864.0,833.5 864.5,823.1 864.9,829.6 865.3,825.0 865.7,822.8 866.1,817.7 866.6,818.7 867.0,819.7 867.4,813.7 867.8,814.0 868.2,815.7 868.7,806.8 869.1,816.3 869.5,811.9 869.9,817.4 870.3,815.5 870.8,822.8 871.2,822.4 871.6,820.4 872.0,832.0 872.4,822.9 872.9,829.1 873.3,827.3 873.7,829.5 874.1,839.6 874.5,829.2 875.0,836.9 875.4,839.3 875.8,841.7 876.2,844.4 876.6,847.3 877.1,843.2 877.5,845.3 877.9,845.9 878.3,839.9 878.7,846.2 879.2,844.5 879.6,843.9 880.0,851.4 880.4,853.2 880.8,846.8 881.3,852.6 881.7,849.0 882.1,849.1 882.5,851.1 882.9,848.0 883.4,849.7 883.8,846.0 884.2,849.3 884.6,850.8 885.0,853.3 885.5,849.6 885.9,854.5 886.3,849.4 886.7,849.6 887.1,855.5 887.6,858.3 888.0,851.6 888.4,850.9 888.8,855.3 889.2,847.6 889.7,849.8 890.1,856.8 890.5,853.1 890.9,851.8 891.3,860.1 891.8,857.1 892.2,860.0 892.6,853.6 893.0,855.8 893.4,861.1 893.9,855.3 894.3,854.5 894.7,858.2 895.1,865.3 895.5,856.2 896.0,862.8 896.4,863.5 896.8,863.5 897.2,863.6 897.6,863.6 898.1,857.6 898.5,865.5 898.9,860.6 899.3,859.3 899.7,866.4 900.2,862.5 900.6,855.1 901.0,863.1 901.4,862.8 901.8,860.4 902.3,860.2 902.7,860.7 903.1,862.3 903.5,867.3 903.9,864.4 904.4,865.5 904.8,861.7 905.2,867.7 905.6,858.7 906.0,864.1 906.5,865.1 906.9,861.5 907.3,863.1" fill="none" stroke="#ee4048" stroke-width="1.45" stroke-linejoin="round"/>
<polyline points="523.4,782.2 523.8,788.3 524.2,781.8 524.7,786.6 525.1,782.2 525.5,781.9 525.9,792.7 526.3,793.2 526.8,796.6 527.2,785.7 527.6,787.2 528.0,787.8 528.4,788.6 528.9,789.5 529.3,780.0 529.7,789.5 530.1,781.2 530.5,786.9 531.0,799.4 531.4,786.7 531.8,785.8 532.2,789.4 532.6,787.2 533.1,783.0 533.5,798.9 533.9,784.9 534.3,790.5 534.7,784.6 535.2,791.7 535.6,789.2 536.0,789.8 536.4,788.6 536.8,789.0 537.3,790.1 537.7,787.6 538.1,784.6 538.5,789.1 538.9,792.6 539.4,789.8 539.8,789.5 540.2,793.6 540.6,785.6 541.0,787.8 541.5,790.5 541.9,796.1 542.3,793.6 542.7,787.3 543.1,783.4 543.6,791.0 544.0,789.4 544.4,783.8 544.8,789.7 545.2,779.8 545.7,783.1 546.1,792.4 546.5,782.6 546.9,785.7 547.3,777.2 547.8,789.9 548.2,782.4 548.6,795.2 549.0,787.8 549.4,784.8 549.9,791.8 550.3,786.9 550.7,788.8 551.1,775.5 551.5,778.4 552.0,783.1 552.4,775.6 552.8,772.6 553.2,771.2 553.6,766.9 554.1,768.1 554.5,777.0 554.9,774.0 555.3,778.7 555.7,780.7 556.2,776.6 556.6,773.6 557.0,777.7 557.4,785.2 557.8,789.3 558.3,787.7 558.7,785.4 559.1,780.2 559.5,782.9 559.9,791.2 560.4,780.8 560.8,790.1 561.2,784.3 561.6,784.4 562.0,791.9 562.5,789.8 562.9,786.7 563.3,783.6 563.7,780.6 564.1,790.1 564.6,792.5 565.0,788.5 565.4,786.1 565.8,783.4 566.2,787.6 566.7,788.2 567.1,788.4 567.5,789.9 567.9,780.3 568.3,790.6 568.8,789.1 569.2,791.6 569.6,790.6 570.0,785.3 570.4,790.8 570.9,791.3 571.3,785.7 571.7,778.9 572.1,785.1 572.5,788.9 573.0,784.9 573.4,784.9 573.8,792.2 574.2,787.2 574.6,788.8 575.1,787.3 575.5,783.9 575.9,794.4 576.3,787.3 576.7,788.4 577.2,788.9 577.6,789.1 578.0,784.4 578.4,784.1 578.8,787.2 579.3,785.9 579.7,792.5 580.1,788.5 580.5,787.7 580.9,791.7 581.4,783.4 581.8,784.0 582.2,789.6 582.6,787.4 583.0,791.1 583.5,791.3 583.9,784.7 584.3,791.7 584.7,792.3 585.1,786.8 585.6,787.1 586.0,781.4 586.4,790.2 586.8,796.2 587.2,781.8 587.7,786.7 588.1,790.5 588.5,785.5 588.9,782.1 589.3,784.9 589.8,788.8 590.2,787.0 590.6,784.9 591.0,794.0 591.4,782.2 591.9,787.6 592.3,792.4 592.7,786.8 593.1,789.1 593.5,792.8 594.0,785.2 594.4,784.7 594.8,786.8 595.2,791.6 595.6,790.1 596.1,795.3 596.5,785.9 596.9,787.0 597.3,787.4 597.7,787.5 598.2,782.5 598.6,792.0 599.0,787.5 599.4,786.7 599.8,796.2 600.3,785.6 600.7,790.7 601.1,790.8 601.5,784.6 601.9,788.3 602.4,789.6 602.8,786.3 603.2,788.7 603.6,790.4 604.0,784.5 604.5,791.9 604.9,791.0 605.3,790.9 605.7,783.8 606.1,787.0 606.6,785.6 607.0,787.3 607.4,784.7 607.8,784.2 608.2,789.4 608.7,785.5 609.1,790.4 609.5,785.8 609.9,790.3 610.3,800.9 610.8,788.0 611.2,793.6 611.6,789.4 612.0,783.9 612.4,779.2 612.9,790.5 613.3,783.6 613.7,779.3 614.1,780.4 614.5,786.3 615.0,786.9 615.4,788.4 615.8,781.5 616.2,784.0 616.6,786.1 617.1,786.9 617.5,785.6 617.9,782.6 618.3,776.4 618.7,783.3 619.2,776.8 619.6,778.9 620.0,775.9 620.4,769.5 620.8,774.2 621.3,768.3 621.7,768.7 622.1,766.0 622.5,760.1 622.9,750.5 623.4,749.2 623.8,745.0 624.2,742.1 624.6,746.5 625.0,736.7 625.5,730.5 625.9,732.8 626.3,731.6 626.7,741.2 627.1,744.2 627.6,753.2 628.0,753.3 628.4,756.6 628.8,766.3 629.2,755.2 629.7,753.5 630.1,762.1 630.5,755.3 630.9,755.1 631.3,754.1 631.8,755.4 632.2,762.5 632.6,761.4 633.0,768.0 633.4,766.5 633.9,773.0 634.3,782.8 634.7,779.7 635.1,773.1 635.5,780.1 636.0,787.5 636.4,790.1 636.8,786.5 637.2,787.5 637.6,784.1 638.1,788.9 638.5,787.6 638.9,786.8 639.3,791.1 639.7,792.7 640.2,795.5 640.6,797.6 641.0,792.5 641.4,791.6 641.8,800.4 642.3,796.9 642.7,796.2 643.1,793.0 643.5,792.9 643.9,789.6 644.4,792.4 644.8,792.9 645.2,794.5 645.6,795.4 646.0,789.0 646.5,796.4 646.9,791.0 647.3,792.6 647.7,804.0 648.1,794.5 648.6,800.8 649.0,800.0 649.4,792.9 649.8,797.2 650.2,790.4 650.7,792.0 651.1,795.0 651.5,805.6 651.9,796.3 652.3,795.3 652.8,793.8 653.2,793.8 653.6,800.0 654.0,798.1 654.4,792.1 654.9,798.2 655.3,794.9 655.7,787.9 656.1,797.1 656.5,790.2 657.0,792.6 657.4,796.5 657.8,788.7 658.2,785.8 658.6,795.0 659.1,786.7 659.5,801.6 659.9,799.7 660.3,791.2 660.7,793.5 661.2,795.5 661.6,793.8 662.0,798.1 662.4,796.9 662.8,794.8 663.3,797.3 663.7,794.0 664.1,796.7 664.5,803.2 664.9,790.9 665.4,796.4 665.8,792.2 666.2,802.7 666.6,792.1 667.0,792.9 667.5,798.0 667.9,797.0 668.3,799.9 668.7,797.8 669.1,791.0 669.6,798.9 670.0,792.7 670.4,789.9 670.8,793.0 671.2,794.5 671.7,792.4 672.1,794.6 672.5,793.7 672.9,797.1 673.3,794.8 673.8,789.9 674.2,788.8 674.6,784.2 675.0,789.2 675.4,795.2 675.9,788.0 676.3,787.5 676.7,782.2 677.1,790.2 677.5,782.1 678.0,790.6 678.4,779.2 678.8,779.7 679.2,784.3 679.6,782.9 680.1,785.4 680.5,782.4 680.9,785.3 681.3,779.0 681.7,792.8 682.2,787.0 682.6,786.4 683.0,786.5 683.4,784.1 683.8,784.2 684.3,782.9 684.7,783.0 685.1,788.5 685.5,783.7 685.9,785.3 686.4,780.7 686.8,786.9 687.2,782.0 687.6,790.4 688.0,773.4 688.5,779.7 688.9,791.3 689.3,785.4 689.7,778.1 690.1,781.8 690.6,780.0 691.0,780.3 691.4,777.9 691.8,787.6 692.2,783.9 692.7,784.6 693.1,785.8 693.5,779.4 693.9,782.3 694.3,787.5 694.8,789.9 695.2,782.9 695.6,785.5 696.0,784.4 696.4,778.7 696.9,783.5 697.3,785.0 697.7,780.5 698.1,784.5 698.5,782.2 699.0,778.6 699.4,781.9 699.8,781.9 700.2,786.2 700.6,777.3 701.1,784.5 701.5,786.2 701.9,785.6 702.3,787.8 702.7,778.5 703.2,782.6 703.6,780.7 704.0,795.1 704.4,784.2 704.8,781.1 705.3,781.4 705.7,782.4 706.1,786.8 706.5,783.4 706.9,786.1 707.4,788.1 707.8,781.9 708.2,784.4 708.6,782.1 709.0,781.0 709.5,778.3 709.9,786.3 710.3,779.3 710.7,784.7 711.1,785.3 711.6,787.2 712.0,781.7 712.4,784.4 712.8,776.7 713.2,783.1 713.7,784.0 714.1,790.3 714.5,782.9 714.9,787.0 715.3,784.0 715.8,786.5 716.2,785.9 716.6,785.9 717.0,778.9 717.4,787.4 717.9,780.7 718.3,787.2 718.7,788.0 719.1,781.7 719.5,776.2 720.0,781.4 720.4,781.3 720.8,777.8 721.2,780.2 721.6,780.2 722.1,786.1 722.5,788.1 722.9,788.8 723.3,779.8 723.7,781.4 724.2,784.5 724.6,777.6 725.0,780.2 725.4,789.9 725.8,783.1 726.3,779.7 726.7,784.1 727.1,782.1 727.5,779.7 727.9,778.7 728.4,777.6 728.8,787.0 729.2,782.4 729.6,785.0 730.0,778.7 730.5,779.7 730.9,777.5 731.3,778.1 731.7,779.3 732.1,778.4 732.6,776.3 733.0,780.7 733.4,780.2 733.8,773.4 734.2,783.6 734.7,773.2 735.1,771.9 735.5,776.0 735.9,771.7 736.3,784.8 736.8,777.7 737.2,770.8 737.6,778.8 738.0,775.4 738.4,781.5 738.9,781.3 739.3,783.9 739.7,780.1 740.1,776.8 740.5,781.6 741.0,786.3 741.4,772.6 741.8,771.7 742.2,780.9 742.6,770.1 743.1,774.1 743.5,780.8 743.9,782.9 744.3,777.4 744.7,780.4 745.2,782.6 745.6,772.7 746.0,775.2 746.4,776.3 746.8,775.2 747.3,780.9 747.7,774.1 748.1,777.0 748.5,778.5 748.9,774.9 749.4,774.0 749.8,776.7 750.2,777.8 750.6,781.2 751.0,777.7 751.5,776.4 751.9,782.0 752.3,771.2 752.7,772.6 753.1,767.0 753.6,775.9 754.0,778.4 754.4,776.3 754.8,777.5 755.2,770.9 755.7,778.7 756.1,774.9 756.5,777.5 756.9,773.2 757.3,779.3 757.8,769.4 758.2,776.4 758.6,770.8 759.0,771.2 759.4,775.4 759.9,774.1 760.3,771.3 760.7,776.6 761.1,772.5 761.5,771.1 762.0,764.2 762.4,776.2 762.8,764.8 763.2,767.6 763.6,769.9 764.1,763.9 764.5,766.0 764.9,763.0 765.3,767.0 765.7,763.6 766.2,759.1 766.6,766.8 767.0,763.9 767.4,767.1 767.8,760.7 768.3,760.8 768.7,752.8 769.1,755.3 769.5,762.0 769.9,756.9 770.4,754.7 770.8,760.8 771.2,748.4 771.6,749.5 772.0,753.7 772.5,751.7 772.9,744.6 773.3,743.7 773.7,751.9 774.1,748.8 774.6,747.5 775.0,748.7 775.4,747.0 775.8,744.6 776.2,744.3 776.7,743.2 777.1,745.9 777.5,744.2 777.9,747.8 778.3,746.7 778.8,744.6 779.2,750.2 779.6,761.8 780.0,753.5 780.4,752.5 780.9,756.4 781.3,746.3 781.7,758.4 782.1,766.4 782.5,758.3 783.0,759.5 783.4,760.4 783.8,766.1 784.2,760.1 784.6,759.3 785.1,770.6 785.5,767.8 785.9,771.4 786.3,770.3 786.7,772.0 787.2,769.1 787.6,775.2 788.0,773.8 788.4,770.9 788.8,772.2 789.3,768.4 789.7,775.9 790.1,777.9 790.5,775.1 790.9,773.3 791.4,780.0 791.8,775.8 792.2,778.2 792.6,777.5 793.0,785.2 793.5,782.6 793.9,777.8 794.3,779.2 794.7,781.8 795.1,780.9 795.6,778.7 796.0,784.2 796.4,779.9 796.8,778.1 797.2,782.7 797.7,783.4 798.1,778.5 798.5,783.9 798.9,781.0 799.3,787.8 799.8,787.6 800.2,783.2 800.6,785.7 801.0,782.3 801.4,784.2 801.9,788.9 802.3,785.4 802.7,781.8 803.1,780.7 803.5,786.2 804.0,782.7 804.4,789.1 804.8,782.1 805.2,788.5 805.6,786.5 806.1,788.5 806.5,790.1 806.9,791.7 807.3,787.8 807.7,787.7 808.2,795.0 808.6,790.8 809.0,786.1 809.4,787.9 809.8,794.0 810.3,791.4 810.7,790.9 811.1,797.3 811.5,784.9 811.9,786.1 812.4,798.8 812.8,790.6 813.2,789.9 813.6,795.5 814.0,796.4 814.5,789.5 814.9,796.9 815.3,797.5" fill="none" stroke="#1f6fe0" stroke-width="1.45" stroke-linejoin="round"/>
<polyline points="823.3,777.6 823.7,775.1 824.1,773.5 824.6,773.1 825.0,773.5 825.4,777.6 825.8,770.9 826.2,774.6 826.7,779.7 827.1,775.9 827.5,774.5 827.9,782.6 828.3,784.2 828.8,776.0 829.2,773.0 829.6,778.5 830.0,778.5 830.4,774.2 830.9,778.1 831.3,781.7 831.7,781.2 832.1,780.8 832.5,783.7 833.0,783.6 833.4,785.3 833.8,792.7 834.2,781.9 834.6,786.8 835.1,782.0 835.5,780.1 835.9,780.0 836.3,789.1 836.7,780.2 837.2,782.5 837.6,787.7 838.0,778.6 838.4,783.5 838.8,780.9 839.3,777.4 839.7,780.7 840.1,784.0 840.5,781.9 840.9,803.3 841.4,781.0 841.8,786.5 842.2,786.4 842.6,787.5 843.0,785.3 843.5,781.1 843.9,783.9 844.3,787.1 844.7,777.6 845.1,779.4 845.6,779.4 846.0,781.7 846.4,778.4 846.8,783.2 847.2,783.4 847.7,779.3 848.1,780.8 848.5,778.0 848.9,778.3 849.3,778.9 849.8,781.6 850.2,777.5 850.6,775.4 851.0,775.6 851.4,772.9 851.9,772.2 852.3,775.4 852.7,768.6 853.1,761.4 853.5,761.4 854.0,760.0 854.4,773.3 854.8,757.3 855.2,767.4 855.6,767.1 856.1,771.9 856.5,772.9 856.9,769.9 857.3,777.7 857.7,774.4 858.2,774.0 858.6,775.9 859.0,768.2 859.4,777.1 859.8,768.0 860.3,777.0 860.7,771.5 861.1,772.7 861.5,770.7 861.9,767.4 862.4,771.3 862.8,764.1 863.2,770.2 863.6,767.2 864.0,760.7 864.5,760.4 864.9,755.7 865.3,755.0 865.7,751.5 866.1,747.2 866.6,752.3 867.0,744.5 867.4,747.7 867.8,747.1 868.2,752.2 868.7,753.9 869.1,753.4 869.5,748.7 869.9,753.9 870.3,751.7 870.8,760.7 871.2,759.0 871.6,763.3 872.0,759.9 872.4,761.8 872.9,760.7 873.3,763.2 873.7,765.2 874.1,771.5 874.5,771.5 875.0,770.4 875.4,773.3 875.8,778.2 876.2,776.3 876.6,778.0 877.1,774.5 877.5,776.6 877.9,768.3 878.3,782.9 878.7,780.1 879.2,770.1 879.6,790.0 880.0,790.5 880.4,785.6 880.8,778.3 881.3,784.6 881.7,779.3 882.1,788.0 882.5,779.9 882.9,780.1 883.4,786.3 883.8,784.3 884.2,791.0 884.6,787.0 885.0,782.0 885.5,790.7 885.9,781.9 886.3,788.0 886.7,785.7 887.1,791.5 887.6,789.3 888.0,790.7 888.4,790.9 888.8,783.6 889.2,784.6 889.7,791.9 890.1,796.0 890.5,793.1 890.9,800.7 891.3,790.3 891.8,795.3 892.2,788.2 892.6,789.7 893.0,792.2 893.4,790.1 893.9,799.3 894.3,793.0 894.7,801.1 895.1,795.5 895.5,794.6 896.0,800.1 896.4,790.6 896.8,800.4 897.2,788.6 897.6,797.6 898.1,798.8 898.5,803.7 898.9,797.3 899.3,806.6 899.7,803.1 900.2,798.5 900.6,799.0 901.0,801.1 901.4,792.1 901.8,804.6 902.3,800.1 902.7,799.2 903.1,804.2 903.5,800.4 903.9,805.5 904.4,795.8 904.8,809.3 905.2,807.6 905.6,798.7 906.0,807.4 906.5,815.9 906.9,797.7 907.3,799.8" fill="none" stroke="#1f6fe0" stroke-width="1.45" stroke-linejoin="round"/></g>
<line x1="632.4" y1="743.8" x2="632.4" y2="912" stroke="#000" stroke-width="1.6" stroke-dasharray="13 3.4"/>
<text x="528.70" y="756.90" font-size="15.1" fill="#000" text-anchor="start" >6.5 months</text>
<text x="531.90" y="817.80" font-size="15.1" fill="#000" text-anchor="start" >3 months</text>
<text x="538.50" y="888.90" font-size="15.0" fill="#000" text-anchor="start" >Fresh</text>
<text x="646.1" y="753.7" font-size="20.6" fill="#000">A<tspan font-size="13" dy="5">1g</tspan></text>
<!-- panel labels -->
<text x="11.30" y="25.80" font-size="20" fill="#000" text-anchor="start" >(a)</text>
<text x="326.00" y="27.80" font-size="20" fill="#000" text-anchor="start" >(b)</text>
<text x="640.80" y="24.90" font-size="20" fill="#000" text-anchor="start" >(c)</text>
<text x="11.30" y="352.60" font-size="20" fill="#000" text-anchor="start" >(d)</text>
<text x="325.80" y="355.90" font-size="20" fill="#000" text-anchor="start" >(e)</text>
<text x="642.60" y="351.90" font-size="20" fill="#000" text-anchor="start" >(f)</text>
<text transform="translate(11.20,699.60) scale(1.170,1)" font-size="17.6" fill="#000" text-anchor="start" >(g)</text>
<text transform="translate(486.10,696.20) scale(1.150,1)" font-size="17.1" fill="#000" text-anchor="start" >(h)</text>
</svg>
</body></html>
